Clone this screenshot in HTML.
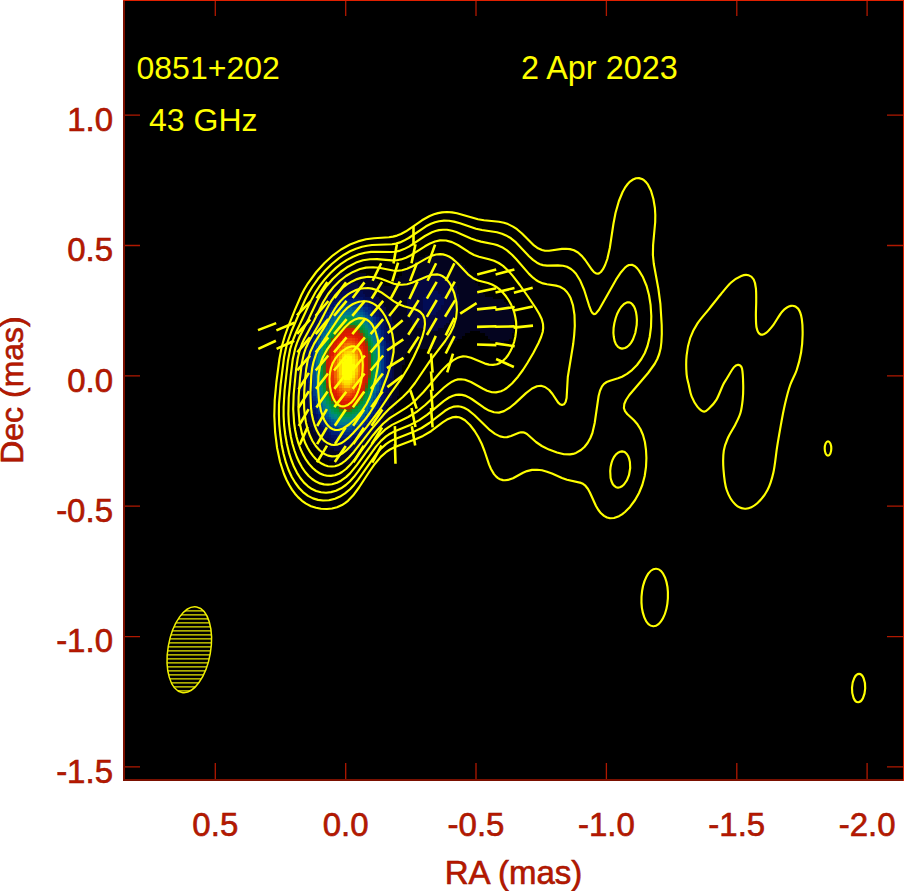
<!DOCTYPE html>
<html><head><meta charset="utf-8"><title>0851+202 43 GHz</title>
<style>html,body{margin:0;padding:0;background:#fff;width:904px;height:891px;overflow:hidden}svg{display:block}</style>
</head><body>
<svg width="904" height="891" viewBox="0 0 904 891">
<defs><clipPath id="plotclip"><rect x="125" y="1" width="778" height="778"/></clipPath></defs>
<rect x="123" y="0" width="781" height="781" fill="#000"/>
<g clip-path="url(#plotclip)">
<g shape-rendering="crispEdges"><path fill="#04041f" d="M425.1 254.7h21.2v2.9h-21.2zM419.9 257.4h34.2v2.9h-34.2zM414.7 260.0h42.0v2.9h-42.0zM412.1 262.6h49.8v2.9h-49.8zM406.8 265.2h57.7v2.9h-57.7zM404.2 267.8h62.9v2.9h-62.9zM349.5 270.4h8.1v2.9h-8.1zM401.6 270.4h68.1v2.9h-68.1zM339.1 273.0h26.4v2.9h-26.4zM401.6 273.0h26.4v2.9h-26.4zM440.7 273.0h29.0v2.9h-29.0zM333.9 275.6h36.8v2.9h-36.8zM399.0 275.6h23.8v2.9h-23.8zM446.0 275.6h26.4v2.9h-26.4zM331.2 278.2h44.6v2.9h-44.6zM396.4 278.2h23.8v2.9h-23.8zM448.6 278.2h26.4v2.9h-26.4zM326.0 280.8h52.4v2.9h-52.4zM393.8 280.8h23.8v2.9h-23.8zM451.2 280.8h23.8v2.9h-23.8zM323.4 283.4h21.2v2.9h-21.2zM357.3 283.4h26.4v2.9h-26.4zM391.2 283.4h23.8v2.9h-23.8zM453.8 283.4h23.8v2.9h-23.8zM320.8 286.0h18.5v2.9h-18.5zM365.1 286.0h47.2v2.9h-47.2zM456.4 286.0h23.8v2.9h-23.8zM318.2 288.6h15.9v2.9h-15.9zM370.4 288.6h39.4v2.9h-39.4zM456.4 288.6h23.8v2.9h-23.8zM318.2 291.2h13.3v2.9h-13.3zM373.0 291.2h36.8v2.9h-36.8zM456.4 291.2h26.4v2.9h-26.4zM315.6 293.9h13.3v2.9h-13.3zM375.6 293.9h34.2v2.9h-34.2zM459.0 293.9h26.4v2.9h-26.4zM313.0 296.5h13.3v2.9h-13.3zM378.2 296.5h29.0v2.9h-29.0zM459.0 296.5h34.2v2.9h-34.2zM313.0 299.1h10.7v2.9h-10.7zM380.8 299.1h26.4v2.9h-26.4zM459.0 299.1h44.6v2.9h-44.6zM310.4 301.7h10.7v2.9h-10.7zM380.8 301.7h26.4v2.9h-26.4zM459.0 301.7h47.2v2.9h-47.2zM310.4 304.3h8.1v2.9h-8.1zM383.4 304.3h23.8v2.9h-23.8zM456.4 304.3h52.4v2.9h-52.4zM307.8 306.9h10.7v2.9h-10.7zM386.0 306.9h21.2v2.9h-21.2zM456.4 306.9h55.0v2.9h-55.0zM307.8 309.5h8.1v2.9h-8.1zM386.0 309.5h21.2v2.9h-21.2zM456.4 309.5h55.0v2.9h-55.0zM305.2 312.1h10.7v2.9h-10.7zM388.6 312.1h18.5v2.9h-18.5zM453.8 312.1h60.3v2.9h-60.3zM305.2 314.7h8.1v2.9h-8.1zM391.2 314.7h15.9v2.9h-15.9zM453.8 314.7h60.3v2.9h-60.3zM302.6 317.3h10.7v2.9h-10.7zM391.2 317.3h18.5v2.9h-18.5zM451.2 317.3h62.9v2.9h-62.9zM302.6 319.9h8.1v2.9h-8.1zM391.2 319.9h21.2v2.9h-21.2zM448.6 319.9h65.5v2.9h-65.5zM302.6 322.5h8.1v2.9h-8.1zM393.8 322.5h18.5v2.9h-18.5zM446.0 322.5h68.1v2.9h-68.1zM300.0 325.1h8.1v2.9h-8.1zM393.8 325.1h23.8v2.9h-23.8zM443.3 325.1h70.7v2.9h-70.7zM300.0 327.7h8.1v2.9h-8.1zM393.8 327.7h29.0v2.9h-29.0zM438.1 327.7h75.9v2.9h-75.9zM300.0 330.4h8.1v2.9h-8.1zM393.8 330.4h75.9v2.9h-75.9zM479.8 330.4h34.2v2.9h-34.2zM297.4 333.0h8.1v2.9h-8.1zM393.8 333.0h70.7v2.9h-70.7zM485.1 333.0h26.4v2.9h-26.4zM297.4 335.6h8.1v2.9h-8.1zM393.8 335.6h68.1v2.9h-68.1zM487.7 335.6h23.8v2.9h-23.8zM297.4 338.2h8.1v2.9h-8.1zM393.8 338.2h62.9v2.9h-62.9zM490.3 338.2h18.5v2.9h-18.5zM297.4 340.8h8.1v2.9h-8.1zM393.8 340.8h60.3v2.9h-60.3zM495.5 340.8h8.1v2.9h-8.1zM297.4 343.4h5.5v2.9h-5.5zM393.8 343.4h55.0v2.9h-55.0zM294.7 346.0h8.1v2.9h-8.1zM393.8 346.0h47.2v2.9h-47.2zM294.7 348.6h8.1v2.9h-8.1zM393.8 348.6h13.3v2.9h-13.3zM294.7 351.2h8.1v2.9h-8.1zM393.8 351.2h13.3v2.9h-13.3zM294.7 353.8h8.1v2.9h-8.1zM393.8 353.8h10.7v2.9h-10.7zM294.7 356.4h8.1v2.9h-8.1zM393.8 356.4h10.7v2.9h-10.7zM294.7 359.0h5.5v2.9h-5.5zM393.8 359.0h10.7v2.9h-10.7zM294.7 361.6h5.5v2.9h-5.5zM393.8 361.6h10.7v2.9h-10.7zM294.7 364.2h5.5v2.9h-5.5zM393.8 364.2h8.1v2.9h-8.1zM292.1 366.8h8.1v2.9h-8.1zM393.8 366.8h8.1v2.9h-8.1zM292.1 369.5h8.1v2.9h-8.1zM393.8 369.5h8.1v2.9h-8.1zM292.1 372.1h8.1v2.9h-8.1zM393.8 372.1h8.1v2.9h-8.1zM292.1 374.7h8.1v2.9h-8.1zM393.8 374.7h8.1v2.9h-8.1zM292.1 377.3h8.1v2.9h-8.1zM393.8 377.3h8.1v2.9h-8.1zM292.1 379.9h8.1v2.9h-8.1zM393.8 379.9h8.1v2.9h-8.1zM294.7 382.5h5.5v2.9h-5.5zM393.8 382.5h5.5v2.9h-5.5zM294.7 385.1h5.5v2.9h-5.5zM391.2 385.1h8.1v2.9h-8.1zM294.7 387.7h5.5v2.9h-5.5zM391.2 387.7h8.1v2.9h-8.1zM294.7 390.3h8.1v2.9h-8.1zM391.2 390.3h8.1v2.9h-8.1zM294.7 392.9h8.1v2.9h-8.1zM391.2 392.9h8.1v2.9h-8.1zM294.7 395.5h8.1v2.9h-8.1zM391.2 395.5h5.5v2.9h-5.5zM294.7 398.1h8.1v2.9h-8.1zM388.6 398.1h8.1v2.9h-8.1zM294.7 400.7h8.1v2.9h-8.1zM388.6 400.7h8.1v2.9h-8.1zM294.7 403.3h8.1v2.9h-8.1zM388.6 403.3h8.1v2.9h-8.1zM297.4 406.0h8.1v2.9h-8.1zM386.0 406.0h8.1v2.9h-8.1zM297.4 408.6h8.1v2.9h-8.1zM386.0 408.6h8.1v2.9h-8.1zM297.4 411.2h8.1v2.9h-8.1zM386.0 411.2h8.1v2.9h-8.1zM297.4 413.8h10.7v2.9h-10.7zM383.4 413.8h8.1v2.9h-8.1zM300.0 416.4h8.1v2.9h-8.1zM383.4 416.4h8.1v2.9h-8.1zM300.0 419.0h8.1v2.9h-8.1zM380.8 419.0h10.7v2.9h-10.7zM300.0 421.6h10.7v2.9h-10.7zM380.8 421.6h8.1v2.9h-8.1zM302.6 424.2h8.1v2.9h-8.1zM378.2 424.2h10.7v2.9h-10.7zM302.6 426.8h10.7v2.9h-10.7zM375.6 426.8h10.7v2.9h-10.7zM305.2 429.4h8.1v2.9h-8.1zM375.6 429.4h10.7v2.9h-10.7zM305.2 432.0h10.7v2.9h-10.7zM373.0 432.0h10.7v2.9h-10.7zM305.2 434.6h13.3v2.9h-13.3zM370.4 434.6h10.7v2.9h-10.7zM307.8 437.2h13.3v2.9h-13.3zM367.7 437.2h13.3v2.9h-13.3zM310.4 439.8h10.7v2.9h-10.7zM365.1 439.8h13.3v2.9h-13.3zM310.4 442.5h15.9v2.9h-15.9zM362.5 442.5h13.3v2.9h-13.3zM313.0 445.1h15.9v2.9h-15.9zM359.9 445.1h15.9v2.9h-15.9zM315.6 447.7h18.5v2.9h-18.5zM354.7 447.7h18.5v2.9h-18.5zM318.2 450.3h52.4v2.9h-52.4zM320.8 452.9h44.6v2.9h-44.6zM323.4 455.5h39.4v2.9h-39.4zM328.6 458.1h31.6v2.9h-31.6zM333.9 460.7h18.5v2.9h-18.5z"/><path fill="#050741" d="M427.7 273.0h13.3v2.9h-13.3zM422.5 275.6h23.8v2.9h-23.8zM419.9 278.2h29.0v2.9h-29.0zM417.3 280.8h34.2v2.9h-34.2zM344.3 283.4h13.3v2.9h-13.3zM414.7 283.4h39.4v2.9h-39.4zM339.1 286.0h26.4v2.9h-26.4zM412.1 286.0h44.6v2.9h-44.6zM333.9 288.6h36.8v2.9h-36.8zM409.5 288.6h47.2v2.9h-47.2zM331.2 291.2h10.7v2.9h-10.7zM362.5 291.2h10.7v2.9h-10.7zM409.5 291.2h18.5v2.9h-18.5zM438.1 291.2h18.5v2.9h-18.5zM328.6 293.9h8.1v2.9h-8.1zM365.1 293.9h10.7v2.9h-10.7zM409.5 293.9h15.9v2.9h-15.9zM440.7 293.9h18.5v2.9h-18.5zM326.0 296.5h8.1v2.9h-8.1zM370.4 296.5h8.1v2.9h-8.1zM406.8 296.5h15.9v2.9h-15.9zM443.3 296.5h15.9v2.9h-15.9zM323.4 299.1h5.5v2.9h-5.5zM373.0 299.1h8.1v2.9h-8.1zM406.8 299.1h15.9v2.9h-15.9zM443.3 299.1h15.9v2.9h-15.9zM320.8 301.7h5.5v2.9h-5.5zM375.6 301.7h5.5v2.9h-5.5zM406.8 301.7h15.9v2.9h-15.9zM443.3 301.7h15.9v2.9h-15.9zM318.2 304.3h8.1v2.9h-8.1zM375.6 304.3h8.1v2.9h-8.1zM406.8 304.3h15.9v2.9h-15.9zM440.7 304.3h15.9v2.9h-15.9zM318.2 306.9h5.5v2.9h-5.5zM378.2 306.9h8.1v2.9h-8.1zM406.8 306.9h15.9v2.9h-15.9zM440.7 306.9h15.9v2.9h-15.9zM315.6 309.5h5.5v2.9h-5.5zM380.8 309.5h5.5v2.9h-5.5zM406.8 309.5h18.5v2.9h-18.5zM438.1 309.5h18.5v2.9h-18.5zM315.6 312.1h2.9v2.9h-2.9zM380.8 312.1h8.1v2.9h-8.1zM406.8 312.1h21.2v2.9h-21.2zM435.5 312.1h18.5v2.9h-18.5zM313.0 314.7h5.5v2.9h-5.5zM383.4 314.7h8.1v2.9h-8.1zM406.8 314.7h47.2v2.9h-47.2zM313.0 317.3h2.9v2.9h-2.9zM383.4 317.3h8.1v2.9h-8.1zM409.5 317.3h42.0v2.9h-42.0zM310.4 319.9h5.5v2.9h-5.5zM386.0 319.9h5.5v2.9h-5.5zM412.1 319.9h36.8v2.9h-36.8zM310.4 322.5h2.9v2.9h-2.9zM386.0 322.5h8.1v2.9h-8.1zM412.1 322.5h34.2v2.9h-34.2zM307.8 325.1h5.5v2.9h-5.5zM386.0 325.1h8.1v2.9h-8.1zM417.3 325.1h26.4v2.9h-26.4zM307.8 327.7h5.5v2.9h-5.5zM388.6 327.7h5.5v2.9h-5.5zM422.5 327.7h15.9v2.9h-15.9zM307.8 330.4h2.9v2.9h-2.9zM388.6 330.4h5.5v2.9h-5.5zM305.2 333.0h5.5v2.9h-5.5zM388.6 333.0h5.5v2.9h-5.5zM305.2 335.6h5.5v2.9h-5.5zM388.6 335.6h5.5v2.9h-5.5zM305.2 338.2h2.9v2.9h-2.9zM388.6 338.2h5.5v2.9h-5.5zM305.2 340.8h2.9v2.9h-2.9zM391.2 340.8h2.9v2.9h-2.9zM302.6 343.4h5.5v2.9h-5.5zM391.2 343.4h2.9v2.9h-2.9zM302.6 346.0h5.5v2.9h-5.5zM391.2 346.0h2.9v2.9h-2.9zM302.6 348.6h2.9v2.9h-2.9zM391.2 348.6h2.9v2.9h-2.9zM302.6 351.2h2.9v2.9h-2.9zM391.2 351.2h2.9v2.9h-2.9zM302.6 353.8h2.9v2.9h-2.9zM391.2 353.8h2.9v2.9h-2.9zM302.6 356.4h2.9v2.9h-2.9zM391.2 356.4h2.9v2.9h-2.9zM300.0 359.0h5.5v2.9h-5.5zM391.2 359.0h2.9v2.9h-2.9zM300.0 361.6h5.5v2.9h-5.5zM391.2 361.6h2.9v2.9h-2.9zM300.0 364.2h5.5v2.9h-5.5zM391.2 364.2h2.9v2.9h-2.9zM300.0 366.8h5.5v2.9h-5.5zM391.2 366.8h2.9v2.9h-2.9zM300.0 369.5h5.5v2.9h-5.5zM391.2 369.5h2.9v2.9h-2.9zM300.0 372.1h5.5v2.9h-5.5zM391.2 372.1h2.9v2.9h-2.9zM300.0 374.7h5.5v2.9h-5.5zM391.2 374.7h2.9v2.9h-2.9zM300.0 377.3h5.5v2.9h-5.5zM388.6 377.3h5.5v2.9h-5.5zM300.0 379.9h5.5v2.9h-5.5zM388.6 379.9h5.5v2.9h-5.5zM300.0 382.5h5.5v2.9h-5.5zM388.6 382.5h5.5v2.9h-5.5zM300.0 385.1h5.5v2.9h-5.5zM388.6 385.1h2.9v2.9h-2.9zM300.0 387.7h5.5v2.9h-5.5zM388.6 387.7h2.9v2.9h-2.9zM302.6 390.3h2.9v2.9h-2.9zM388.6 390.3h2.9v2.9h-2.9zM302.6 392.9h2.9v2.9h-2.9zM386.0 392.9h5.5v2.9h-5.5zM302.6 395.5h2.9v2.9h-2.9zM386.0 395.5h5.5v2.9h-5.5zM302.6 398.1h5.5v2.9h-5.5zM386.0 398.1h2.9v2.9h-2.9zM302.6 400.7h5.5v2.9h-5.5zM383.4 400.7h5.5v2.9h-5.5zM302.6 403.3h5.5v2.9h-5.5zM383.4 403.3h5.5v2.9h-5.5zM305.2 406.0h2.9v2.9h-2.9zM383.4 406.0h2.9v2.9h-2.9zM305.2 408.6h5.5v2.9h-5.5zM380.8 408.6h5.5v2.9h-5.5zM305.2 411.2h5.5v2.9h-5.5zM380.8 411.2h5.5v2.9h-5.5zM307.8 413.8h2.9v2.9h-2.9zM378.2 413.8h5.5v2.9h-5.5zM307.8 416.4h5.5v2.9h-5.5zM378.2 416.4h5.5v2.9h-5.5zM307.8 419.0h5.5v2.9h-5.5zM375.6 419.0h5.5v2.9h-5.5zM310.4 421.6h5.5v2.9h-5.5zM375.6 421.6h5.5v2.9h-5.5zM310.4 424.2h5.5v2.9h-5.5zM373.0 424.2h5.5v2.9h-5.5zM313.0 426.8h5.5v2.9h-5.5zM370.4 426.8h5.5v2.9h-5.5zM313.0 429.4h8.1v2.9h-8.1zM370.4 429.4h5.5v2.9h-5.5zM315.6 432.0h5.5v2.9h-5.5zM367.7 432.0h5.5v2.9h-5.5zM318.2 434.6h5.5v2.9h-5.5zM365.1 434.6h5.5v2.9h-5.5zM320.8 437.2h8.1v2.9h-8.1zM359.9 437.2h8.1v2.9h-8.1zM320.8 439.8h10.7v2.9h-10.7zM357.3 439.8h8.1v2.9h-8.1zM326.0 442.5h10.7v2.9h-10.7zM352.1 442.5h10.7v2.9h-10.7zM328.6 445.1h31.6v2.9h-31.6zM333.9 447.7h21.2v2.9h-21.2z"/><path fill="#020c55" d="M341.7 291.2h21.2v2.9h-21.2zM427.7 291.2h10.7v2.9h-10.7zM336.5 293.9h10.7v2.9h-10.7zM354.7 293.9h10.7v2.9h-10.7zM425.1 293.9h15.9v2.9h-15.9zM333.9 296.5h5.5v2.9h-5.5zM362.5 296.5h8.1v2.9h-8.1zM422.5 296.5h21.2v2.9h-21.2zM328.6 299.1h8.1v2.9h-8.1zM365.1 299.1h8.1v2.9h-8.1zM422.5 299.1h21.2v2.9h-21.2zM326.0 301.7h5.5v2.9h-5.5zM370.4 301.7h5.5v2.9h-5.5zM422.5 301.7h21.2v2.9h-21.2zM326.0 304.3h2.9v2.9h-2.9zM373.0 304.3h2.9v2.9h-2.9zM422.5 304.3h18.5v2.9h-18.5zM323.4 306.9h2.9v2.9h-2.9zM373.0 306.9h5.5v2.9h-5.5zM422.5 306.9h18.5v2.9h-18.5zM320.8 309.5h5.5v2.9h-5.5zM375.6 309.5h5.5v2.9h-5.5zM425.1 309.5h13.3v2.9h-13.3zM318.2 312.1h5.5v2.9h-5.5zM378.2 312.1h2.9v2.9h-2.9zM427.7 312.1h8.1v2.9h-8.1zM318.2 314.7h2.9v2.9h-2.9zM378.2 314.7h5.5v2.9h-5.5zM315.6 317.3h5.5v2.9h-5.5zM380.8 317.3h2.9v2.9h-2.9zM315.6 319.9h2.9v2.9h-2.9zM380.8 319.9h5.5v2.9h-5.5zM313.0 322.5h5.5v2.9h-5.5zM383.4 322.5h2.9v2.9h-2.9zM313.0 325.1h2.9v2.9h-2.9zM383.4 325.1h2.9v2.9h-2.9zM313.0 327.7h2.9v2.9h-2.9zM383.4 327.7h5.5v2.9h-5.5zM310.4 330.4h2.9v2.9h-2.9zM386.0 330.4h2.9v2.9h-2.9zM310.4 333.0h2.9v2.9h-2.9zM386.0 333.0h2.9v2.9h-2.9zM310.4 335.6h2.9v2.9h-2.9zM386.0 335.6h2.9v2.9h-2.9zM307.8 338.2h2.9v2.9h-2.9zM386.0 338.2h2.9v2.9h-2.9zM307.8 340.8h2.9v2.9h-2.9zM386.0 340.8h5.5v2.9h-5.5zM307.8 343.4h2.9v2.9h-2.9zM388.6 343.4h2.9v2.9h-2.9zM307.8 346.0h2.9v2.9h-2.9zM388.6 346.0h2.9v2.9h-2.9zM305.2 348.6h2.9v2.9h-2.9zM388.6 348.6h2.9v2.9h-2.9zM305.2 351.2h2.9v2.9h-2.9zM388.6 351.2h2.9v2.9h-2.9zM305.2 353.8h2.9v2.9h-2.9zM388.6 353.8h2.9v2.9h-2.9zM305.2 356.4h2.9v2.9h-2.9zM388.6 356.4h2.9v2.9h-2.9zM305.2 359.0h2.9v2.9h-2.9zM388.6 359.0h2.9v2.9h-2.9zM305.2 361.6h2.9v2.9h-2.9zM388.6 361.6h2.9v2.9h-2.9zM305.2 364.2h2.9v2.9h-2.9zM388.6 364.2h2.9v2.9h-2.9zM305.2 366.8h2.9v2.9h-2.9zM388.6 366.8h2.9v2.9h-2.9zM305.2 369.5h2.9v2.9h-2.9zM388.6 369.5h2.9v2.9h-2.9zM305.2 372.1h2.9v2.9h-2.9zM388.6 372.1h2.9v2.9h-2.9zM305.2 374.7h2.9v2.9h-2.9zM388.6 374.7h2.9v2.9h-2.9zM305.2 377.3h2.9v2.9h-2.9zM386.0 377.3h2.9v2.9h-2.9zM305.2 379.9h2.9v2.9h-2.9zM386.0 379.9h2.9v2.9h-2.9zM305.2 382.5h2.9v2.9h-2.9zM386.0 382.5h2.9v2.9h-2.9zM305.2 385.1h2.9v2.9h-2.9zM386.0 385.1h2.9v2.9h-2.9zM305.2 387.7h2.9v2.9h-2.9zM386.0 387.7h2.9v2.9h-2.9zM305.2 390.3h2.9v2.9h-2.9zM386.0 390.3h2.9v2.9h-2.9zM305.2 392.9h2.9v2.9h-2.9zM383.4 392.9h2.9v2.9h-2.9zM305.2 395.5h2.9v2.9h-2.9zM383.4 395.5h2.9v2.9h-2.9zM307.8 398.1h2.9v2.9h-2.9zM383.4 398.1h2.9v2.9h-2.9zM307.8 400.7h2.9v2.9h-2.9zM380.8 400.7h2.9v2.9h-2.9zM307.8 403.3h2.9v2.9h-2.9zM380.8 403.3h2.9v2.9h-2.9zM307.8 406.0h2.9v2.9h-2.9zM380.8 406.0h2.9v2.9h-2.9zM310.4 408.6h2.9v2.9h-2.9zM378.2 408.6h2.9v2.9h-2.9zM310.4 411.2h2.9v2.9h-2.9zM378.2 411.2h2.9v2.9h-2.9zM310.4 413.8h5.5v2.9h-5.5zM375.6 413.8h2.9v2.9h-2.9zM313.0 416.4h2.9v2.9h-2.9zM375.6 416.4h2.9v2.9h-2.9zM313.0 419.0h5.5v2.9h-5.5zM373.0 419.0h2.9v2.9h-2.9zM315.6 421.6h2.9v2.9h-2.9zM370.4 421.6h5.5v2.9h-5.5zM315.6 424.2h5.5v2.9h-5.5zM367.7 424.2h5.5v2.9h-5.5zM318.2 426.8h5.5v2.9h-5.5zM367.7 426.8h2.9v2.9h-2.9zM320.8 429.4h2.9v2.9h-2.9zM365.1 429.4h5.5v2.9h-5.5zM320.8 432.0h8.1v2.9h-8.1zM362.5 432.0h5.5v2.9h-5.5zM323.4 434.6h8.1v2.9h-8.1zM357.3 434.6h8.1v2.9h-8.1zM328.6 437.2h5.5v2.9h-5.5zM352.1 437.2h8.1v2.9h-8.1zM331.2 439.8h26.4v2.9h-26.4zM336.5 442.5h15.9v2.9h-15.9z"/><path fill="#001166" d="M346.9 293.9h8.1v2.9h-8.1zM339.1 296.5h23.8v2.9h-23.8zM336.5 299.1h5.5v2.9h-5.5zM359.9 299.1h5.5v2.9h-5.5zM331.2 301.7h5.5v2.9h-5.5zM365.1 301.7h5.5v2.9h-5.5zM328.6 304.3h5.5v2.9h-5.5zM367.7 304.3h5.5v2.9h-5.5zM326.0 306.9h5.5v2.9h-5.5zM370.4 306.9h2.9v2.9h-2.9zM326.0 309.5h2.9v2.9h-2.9zM373.0 309.5h2.9v2.9h-2.9zM323.4 312.1h2.9v2.9h-2.9zM373.0 312.1h5.5v2.9h-5.5zM320.8 314.7h2.9v2.9h-2.9zM375.6 314.7h2.9v2.9h-2.9zM320.8 317.3h2.9v2.9h-2.9zM378.2 317.3h2.9v2.9h-2.9zM318.2 319.9h2.9v2.9h-2.9zM378.2 319.9h2.9v2.9h-2.9zM318.2 322.5h2.9v2.9h-2.9zM380.8 322.5h2.9v2.9h-2.9zM315.6 325.1h2.9v2.9h-2.9zM380.8 325.1h2.9v2.9h-2.9zM315.6 327.7h2.9v2.9h-2.9zM380.8 327.7h2.9v2.9h-2.9zM313.0 330.4h2.9v2.9h-2.9zM383.4 330.4h2.9v2.9h-2.9zM313.0 333.0h2.9v2.9h-2.9zM383.4 333.0h2.9v2.9h-2.9zM313.0 335.6h2.9v2.9h-2.9zM383.4 335.6h2.9v2.9h-2.9zM310.4 338.2h2.9v2.9h-2.9zM383.4 338.2h2.9v2.9h-2.9zM310.4 340.8h2.9v2.9h-2.9zM310.4 343.4h2.9v2.9h-2.9zM386.0 343.4h2.9v2.9h-2.9zM386.0 346.0h2.9v2.9h-2.9zM307.8 348.6h2.9v2.9h-2.9zM386.0 348.6h2.9v2.9h-2.9zM307.8 351.2h2.9v2.9h-2.9zM386.0 351.2h2.9v2.9h-2.9zM307.8 353.8h2.9v2.9h-2.9zM386.0 353.8h2.9v2.9h-2.9zM307.8 356.4h2.9v2.9h-2.9zM386.0 356.4h2.9v2.9h-2.9zM307.8 359.0h2.9v2.9h-2.9zM386.0 359.0h2.9v2.9h-2.9zM307.8 361.6h2.9v2.9h-2.9zM386.0 361.6h2.9v2.9h-2.9zM386.0 364.2h2.9v2.9h-2.9zM386.0 366.8h2.9v2.9h-2.9zM386.0 369.5h2.9v2.9h-2.9zM386.0 372.1h2.9v2.9h-2.9zM386.0 374.7h2.9v2.9h-2.9zM307.8 382.5h2.9v2.9h-2.9zM383.4 382.5h2.9v2.9h-2.9zM307.8 385.1h2.9v2.9h-2.9zM383.4 385.1h2.9v2.9h-2.9zM307.8 387.7h2.9v2.9h-2.9zM383.4 387.7h2.9v2.9h-2.9zM307.8 390.3h2.9v2.9h-2.9zM383.4 390.3h2.9v2.9h-2.9zM307.8 392.9h2.9v2.9h-2.9zM380.8 392.9h2.9v2.9h-2.9zM307.8 395.5h2.9v2.9h-2.9zM380.8 395.5h2.9v2.9h-2.9zM310.4 398.1h2.9v2.9h-2.9zM380.8 398.1h2.9v2.9h-2.9zM310.4 400.7h2.9v2.9h-2.9zM378.2 400.7h2.9v2.9h-2.9zM310.4 403.3h2.9v2.9h-2.9zM378.2 403.3h2.9v2.9h-2.9zM310.4 406.0h2.9v2.9h-2.9zM378.2 406.0h2.9v2.9h-2.9zM313.0 408.6h2.9v2.9h-2.9zM375.6 408.6h2.9v2.9h-2.9zM313.0 411.2h2.9v2.9h-2.9zM375.6 411.2h2.9v2.9h-2.9zM315.6 413.8h2.9v2.9h-2.9zM373.0 413.8h2.9v2.9h-2.9zM315.6 416.4h2.9v2.9h-2.9zM370.4 416.4h5.5v2.9h-5.5zM318.2 419.0h2.9v2.9h-2.9zM370.4 419.0h2.9v2.9h-2.9zM318.2 421.6h2.9v2.9h-2.9zM367.7 421.6h2.9v2.9h-2.9zM320.8 424.2h2.9v2.9h-2.9zM365.1 424.2h2.9v2.9h-2.9zM323.4 426.8h2.9v2.9h-2.9zM362.5 426.8h5.5v2.9h-5.5zM323.4 429.4h5.5v2.9h-5.5zM359.9 429.4h5.5v2.9h-5.5zM328.6 432.0h2.9v2.9h-2.9zM357.3 432.0h5.5v2.9h-5.5zM331.2 434.6h5.5v2.9h-5.5zM352.1 434.6h5.5v2.9h-5.5zM333.9 437.2h18.5v2.9h-18.5z"/><path fill="#001e76" d="M341.7 299.1h18.5v2.9h-18.5zM336.5 301.7h5.5v2.9h-5.5zM359.9 301.7h5.5v2.9h-5.5zM333.9 304.3h5.5v2.9h-5.5zM362.5 304.3h5.5v2.9h-5.5zM331.2 306.9h2.9v2.9h-2.9zM367.7 306.9h2.9v2.9h-2.9zM328.6 309.5h2.9v2.9h-2.9zM370.4 309.5h2.9v2.9h-2.9zM326.0 312.1h2.9v2.9h-2.9zM370.4 312.1h2.9v2.9h-2.9zM323.4 314.7h2.9v2.9h-2.9zM373.0 314.7h2.9v2.9h-2.9zM323.4 317.3h2.9v2.9h-2.9zM375.6 317.3h2.9v2.9h-2.9zM320.8 319.9h2.9v2.9h-2.9zM375.6 319.9h2.9v2.9h-2.9zM378.2 322.5h2.9v2.9h-2.9zM318.2 325.1h2.9v2.9h-2.9zM378.2 325.1h2.9v2.9h-2.9zM378.2 327.7h2.9v2.9h-2.9zM315.6 330.4h2.9v2.9h-2.9zM380.8 330.4h2.9v2.9h-2.9zM315.6 333.0h2.9v2.9h-2.9zM380.8 333.0h2.9v2.9h-2.9zM380.8 335.6h2.9v2.9h-2.9zM313.0 338.2h2.9v2.9h-2.9zM313.0 340.8h2.9v2.9h-2.9zM383.4 340.8h2.9v2.9h-2.9zM383.4 343.4h2.9v2.9h-2.9zM310.4 346.0h2.9v2.9h-2.9zM383.4 346.0h2.9v2.9h-2.9zM310.4 348.6h2.9v2.9h-2.9zM383.4 348.6h2.9v2.9h-2.9zM310.4 351.2h2.9v2.9h-2.9zM383.4 351.2h2.9v2.9h-2.9zM310.4 353.8h2.9v2.9h-2.9zM383.4 353.8h2.9v2.9h-2.9zM383.4 356.4h2.9v2.9h-2.9zM383.4 359.0h2.9v2.9h-2.9zM383.4 361.6h2.9v2.9h-2.9zM307.8 364.2h2.9v2.9h-2.9zM383.4 364.2h2.9v2.9h-2.9zM307.8 366.8h2.9v2.9h-2.9zM383.4 366.8h2.9v2.9h-2.9zM307.8 369.5h2.9v2.9h-2.9zM383.4 369.5h2.9v2.9h-2.9zM307.8 372.1h2.9v2.9h-2.9zM383.4 372.1h2.9v2.9h-2.9zM307.8 374.7h2.9v2.9h-2.9zM383.4 374.7h2.9v2.9h-2.9zM307.8 377.3h2.9v2.9h-2.9zM383.4 377.3h2.9v2.9h-2.9zM307.8 379.9h2.9v2.9h-2.9zM383.4 379.9h2.9v2.9h-2.9zM380.8 385.1h2.9v2.9h-2.9zM380.8 387.7h2.9v2.9h-2.9zM310.4 390.3h2.9v2.9h-2.9zM380.8 390.3h2.9v2.9h-2.9zM310.4 392.9h2.9v2.9h-2.9zM310.4 395.5h2.9v2.9h-2.9zM378.2 395.5h2.9v2.9h-2.9zM378.2 398.1h2.9v2.9h-2.9zM313.0 400.7h2.9v2.9h-2.9zM313.0 403.3h2.9v2.9h-2.9zM375.6 403.3h2.9v2.9h-2.9zM313.0 406.0h2.9v2.9h-2.9zM375.6 406.0h2.9v2.9h-2.9zM315.6 408.6h2.9v2.9h-2.9zM373.0 408.6h2.9v2.9h-2.9zM315.6 411.2h2.9v2.9h-2.9zM373.0 411.2h2.9v2.9h-2.9zM318.2 413.8h2.9v2.9h-2.9zM370.4 413.8h2.9v2.9h-2.9zM318.2 416.4h2.9v2.9h-2.9zM367.7 416.4h2.9v2.9h-2.9zM320.8 419.0h2.9v2.9h-2.9zM367.7 419.0h2.9v2.9h-2.9zM320.8 421.6h5.5v2.9h-5.5zM365.1 421.6h2.9v2.9h-2.9zM323.4 424.2h2.9v2.9h-2.9zM362.5 424.2h2.9v2.9h-2.9zM326.0 426.8h5.5v2.9h-5.5zM359.9 426.8h2.9v2.9h-2.9zM328.6 429.4h5.5v2.9h-5.5zM354.7 429.4h5.5v2.9h-5.5zM331.2 432.0h8.1v2.9h-8.1zM349.5 432.0h8.1v2.9h-8.1zM336.5 434.6h15.9v2.9h-15.9z"/><path fill="#002c84" d="M341.7 301.7h18.5v2.9h-18.5zM339.1 304.3h2.9v2.9h-2.9zM359.9 304.3h2.9v2.9h-2.9zM333.9 306.9h5.5v2.9h-5.5zM362.5 306.9h5.5v2.9h-5.5zM331.2 309.5h2.9v2.9h-2.9zM365.1 309.5h5.5v2.9h-5.5zM328.6 312.1h2.9v2.9h-2.9zM367.7 312.1h2.9v2.9h-2.9zM326.0 314.7h2.9v2.9h-2.9zM370.4 314.7h2.9v2.9h-2.9zM326.0 317.3h2.9v2.9h-2.9zM373.0 317.3h2.9v2.9h-2.9zM323.4 319.9h2.9v2.9h-2.9zM373.0 319.9h2.9v2.9h-2.9zM320.8 322.5h2.9v2.9h-2.9zM375.6 322.5h2.9v2.9h-2.9zM320.8 325.1h2.9v2.9h-2.9zM375.6 325.1h2.9v2.9h-2.9zM318.2 327.7h2.9v2.9h-2.9zM318.2 330.4h2.9v2.9h-2.9zM378.2 330.4h2.9v2.9h-2.9zM378.2 333.0h2.9v2.9h-2.9zM315.6 335.6h2.9v2.9h-2.9zM315.6 338.2h2.9v2.9h-2.9zM380.8 338.2h2.9v2.9h-2.9zM380.8 340.8h2.9v2.9h-2.9zM313.0 343.4h2.9v2.9h-2.9zM380.8 343.4h2.9v2.9h-2.9zM313.0 346.0h2.9v2.9h-2.9zM313.0 348.6h2.9v2.9h-2.9zM310.4 356.4h2.9v2.9h-2.9zM310.4 359.0h2.9v2.9h-2.9zM310.4 361.6h2.9v2.9h-2.9zM310.4 364.2h2.9v2.9h-2.9zM310.4 366.8h2.9v2.9h-2.9zM310.4 369.5h2.9v2.9h-2.9zM310.4 372.1h2.9v2.9h-2.9zM310.4 374.7h2.9v2.9h-2.9zM310.4 377.3h2.9v2.9h-2.9zM380.8 377.3h2.9v2.9h-2.9zM310.4 379.9h2.9v2.9h-2.9zM380.8 379.9h2.9v2.9h-2.9zM310.4 382.5h2.9v2.9h-2.9zM380.8 382.5h2.9v2.9h-2.9zM310.4 385.1h2.9v2.9h-2.9zM310.4 387.7h2.9v2.9h-2.9zM378.2 390.3h2.9v2.9h-2.9zM378.2 392.9h2.9v2.9h-2.9zM313.0 395.5h2.9v2.9h-2.9zM313.0 398.1h2.9v2.9h-2.9zM375.6 398.1h2.9v2.9h-2.9zM375.6 400.7h2.9v2.9h-2.9zM315.6 403.3h2.9v2.9h-2.9zM315.6 406.0h2.9v2.9h-2.9zM373.0 406.0h2.9v2.9h-2.9zM370.4 408.6h2.9v2.9h-2.9zM318.2 411.2h2.9v2.9h-2.9zM370.4 411.2h2.9v2.9h-2.9zM367.7 413.8h2.9v2.9h-2.9zM320.8 416.4h2.9v2.9h-2.9zM323.4 419.0h2.9v2.9h-2.9zM365.1 419.0h2.9v2.9h-2.9zM326.0 421.6h2.9v2.9h-2.9zM362.5 421.6h2.9v2.9h-2.9zM326.0 424.2h5.5v2.9h-5.5zM359.9 424.2h2.9v2.9h-2.9zM331.2 426.8h2.9v2.9h-2.9zM354.7 426.8h5.5v2.9h-5.5zM333.9 429.4h5.5v2.9h-5.5zM349.5 429.4h5.5v2.9h-5.5zM339.1 432.0h10.7v2.9h-10.7z"/><path fill="#003d8a" d="M341.7 304.3h18.5v2.9h-18.5zM339.1 306.9h2.9v2.9h-2.9zM359.9 306.9h2.9v2.9h-2.9zM333.9 309.5h5.5v2.9h-5.5zM362.5 309.5h2.9v2.9h-2.9zM331.2 312.1h2.9v2.9h-2.9zM365.1 312.1h2.9v2.9h-2.9zM328.6 314.7h2.9v2.9h-2.9zM367.7 314.7h2.9v2.9h-2.9zM370.4 317.3h2.9v2.9h-2.9zM326.0 319.9h2.9v2.9h-2.9zM323.4 322.5h2.9v2.9h-2.9zM373.0 322.5h2.9v2.9h-2.9zM320.8 327.7h2.9v2.9h-2.9zM375.6 327.7h2.9v2.9h-2.9zM375.6 330.4h2.9v2.9h-2.9zM318.2 333.0h2.9v2.9h-2.9zM318.2 335.6h2.9v2.9h-2.9zM378.2 335.6h2.9v2.9h-2.9zM378.2 338.2h2.9v2.9h-2.9zM315.6 340.8h2.9v2.9h-2.9zM315.6 343.4h2.9v2.9h-2.9zM380.8 346.0h2.9v2.9h-2.9zM380.8 348.6h2.9v2.9h-2.9zM313.0 351.2h2.9v2.9h-2.9zM380.8 351.2h2.9v2.9h-2.9zM313.0 353.8h2.9v2.9h-2.9zM380.8 353.8h2.9v2.9h-2.9zM313.0 356.4h2.9v2.9h-2.9zM380.8 356.4h2.9v2.9h-2.9zM380.8 359.0h2.9v2.9h-2.9zM380.8 361.6h2.9v2.9h-2.9zM380.8 364.2h2.9v2.9h-2.9zM380.8 366.8h2.9v2.9h-2.9zM380.8 369.5h2.9v2.9h-2.9zM380.8 372.1h2.9v2.9h-2.9zM380.8 374.7h2.9v2.9h-2.9zM378.2 385.1h2.9v2.9h-2.9zM313.0 387.7h2.9v2.9h-2.9zM378.2 387.7h2.9v2.9h-2.9zM313.0 390.3h2.9v2.9h-2.9zM313.0 392.9h2.9v2.9h-2.9zM375.6 392.9h2.9v2.9h-2.9zM375.6 395.5h2.9v2.9h-2.9zM315.6 398.1h2.9v2.9h-2.9zM315.6 400.7h2.9v2.9h-2.9zM373.0 400.7h2.9v2.9h-2.9zM373.0 403.3h2.9v2.9h-2.9zM318.2 406.0h2.9v2.9h-2.9zM370.4 406.0h2.9v2.9h-2.9zM318.2 408.6h2.9v2.9h-2.9zM320.8 411.2h2.9v2.9h-2.9zM367.7 411.2h2.9v2.9h-2.9zM320.8 413.8h2.9v2.9h-2.9zM365.1 413.8h2.9v2.9h-2.9zM323.4 416.4h2.9v2.9h-2.9zM365.1 416.4h2.9v2.9h-2.9zM326.0 419.0h2.9v2.9h-2.9zM362.5 419.0h2.9v2.9h-2.9zM328.6 421.6h2.9v2.9h-2.9zM359.9 421.6h2.9v2.9h-2.9zM331.2 424.2h2.9v2.9h-2.9zM354.7 424.2h5.5v2.9h-5.5zM333.9 426.8h5.5v2.9h-5.5zM352.1 426.8h2.9v2.9h-2.9zM339.1 429.4h10.7v2.9h-10.7z"/><path fill="#004d90" d="M341.7 306.9h8.1v2.9h-8.1zM352.1 306.9h8.1v2.9h-8.1zM339.1 309.5h2.9v2.9h-2.9zM359.9 309.5h2.9v2.9h-2.9zM333.9 312.1h2.9v2.9h-2.9zM362.5 312.1h2.9v2.9h-2.9zM331.2 314.7h2.9v2.9h-2.9zM365.1 314.7h2.9v2.9h-2.9zM328.6 317.3h2.9v2.9h-2.9zM367.7 317.3h2.9v2.9h-2.9zM370.4 319.9h2.9v2.9h-2.9zM326.0 322.5h2.9v2.9h-2.9zM370.4 322.5h2.9v2.9h-2.9zM323.4 325.1h2.9v2.9h-2.9zM373.0 325.1h2.9v2.9h-2.9zM373.0 327.7h2.9v2.9h-2.9zM320.8 330.4h2.9v2.9h-2.9zM375.6 333.0h2.9v2.9h-2.9zM318.2 338.2h2.9v2.9h-2.9zM378.2 340.8h2.9v2.9h-2.9zM378.2 343.4h2.9v2.9h-2.9zM315.6 346.0h2.9v2.9h-2.9zM378.2 346.0h2.9v2.9h-2.9zM315.6 348.6h2.9v2.9h-2.9zM313.0 359.0h2.9v2.9h-2.9zM313.0 361.6h2.9v2.9h-2.9zM313.0 364.2h2.9v2.9h-2.9zM313.0 366.8h2.9v2.9h-2.9zM313.0 369.5h2.9v2.9h-2.9zM313.0 372.1h2.9v2.9h-2.9zM313.0 374.7h2.9v2.9h-2.9zM313.0 377.3h2.9v2.9h-2.9zM378.2 377.3h2.9v2.9h-2.9zM313.0 379.9h2.9v2.9h-2.9zM378.2 379.9h2.9v2.9h-2.9zM313.0 382.5h2.9v2.9h-2.9zM378.2 382.5h2.9v2.9h-2.9zM313.0 385.1h2.9v2.9h-2.9zM375.6 390.3h2.9v2.9h-2.9zM315.6 392.9h2.9v2.9h-2.9zM315.6 395.5h2.9v2.9h-2.9zM373.0 398.1h2.9v2.9h-2.9zM318.2 403.3h2.9v2.9h-2.9zM370.4 403.3h2.9v2.9h-2.9zM320.8 408.6h2.9v2.9h-2.9zM367.7 408.6h2.9v2.9h-2.9zM323.4 413.8h2.9v2.9h-2.9zM326.0 416.4h2.9v2.9h-2.9zM362.5 416.4h2.9v2.9h-2.9zM328.6 419.0h2.9v2.9h-2.9zM359.9 419.0h2.9v2.9h-2.9zM331.2 421.6h2.9v2.9h-2.9zM357.3 421.6h2.9v2.9h-2.9zM333.9 424.2h2.9v2.9h-2.9zM352.1 424.2h2.9v2.9h-2.9zM339.1 426.8h13.3v2.9h-13.3z"/><path fill="#005c93" d="M349.5 306.9h2.9v2.9h-2.9zM341.7 309.5h5.5v2.9h-5.5zM354.7 309.5h5.5v2.9h-5.5zM336.5 312.1h2.9v2.9h-2.9zM359.9 312.1h2.9v2.9h-2.9zM333.9 314.7h2.9v2.9h-2.9zM362.5 314.7h2.9v2.9h-2.9zM331.2 317.3h2.9v2.9h-2.9zM365.1 317.3h2.9v2.9h-2.9zM328.6 319.9h2.9v2.9h-2.9zM367.7 319.9h2.9v2.9h-2.9zM326.0 325.1h2.9v2.9h-2.9zM370.4 325.1h2.9v2.9h-2.9zM323.4 327.7h2.9v2.9h-2.9zM323.4 330.4h2.9v2.9h-2.9zM373.0 330.4h2.9v2.9h-2.9zM320.8 333.0h2.9v2.9h-2.9zM320.8 335.6h2.9v2.9h-2.9zM375.6 335.6h2.9v2.9h-2.9zM375.6 338.2h2.9v2.9h-2.9zM318.2 340.8h2.9v2.9h-2.9zM318.2 343.4h2.9v2.9h-2.9zM378.2 348.6h2.9v2.9h-2.9zM315.6 351.2h2.9v2.9h-2.9zM378.2 351.2h2.9v2.9h-2.9zM315.6 353.8h2.9v2.9h-2.9zM378.2 353.8h2.9v2.9h-2.9zM378.2 356.4h2.9v2.9h-2.9zM378.2 359.0h2.9v2.9h-2.9zM378.2 361.6h2.9v2.9h-2.9zM378.2 364.2h2.9v2.9h-2.9zM378.2 366.8h2.9v2.9h-2.9zM378.2 369.5h2.9v2.9h-2.9zM378.2 372.1h2.9v2.9h-2.9zM378.2 374.7h2.9v2.9h-2.9zM375.6 385.1h2.9v2.9h-2.9zM315.6 387.7h2.9v2.9h-2.9zM375.6 387.7h2.9v2.9h-2.9zM315.6 390.3h2.9v2.9h-2.9zM373.0 392.9h2.9v2.9h-2.9zM373.0 395.5h2.9v2.9h-2.9zM318.2 398.1h2.9v2.9h-2.9zM318.2 400.7h2.9v2.9h-2.9zM370.4 400.7h2.9v2.9h-2.9zM320.8 406.0h2.9v2.9h-2.9zM367.7 406.0h2.9v2.9h-2.9zM323.4 411.2h2.9v2.9h-2.9zM365.1 411.2h2.9v2.9h-2.9zM326.0 413.8h2.9v2.9h-2.9zM362.5 413.8h2.9v2.9h-2.9zM328.6 416.4h2.9v2.9h-2.9zM359.9 416.4h2.9v2.9h-2.9zM331.2 419.0h2.9v2.9h-2.9zM357.3 419.0h2.9v2.9h-2.9zM333.9 421.6h2.9v2.9h-2.9zM354.7 421.6h2.9v2.9h-2.9zM336.5 424.2h15.9v2.9h-15.9z"/><path fill="#006b95" d="M346.9 309.5h8.1v2.9h-8.1zM339.1 312.1h5.5v2.9h-5.5zM357.3 312.1h2.9v2.9h-2.9zM336.5 314.7h2.9v2.9h-2.9zM333.9 317.3h2.9v2.9h-2.9zM331.2 319.9h2.9v2.9h-2.9zM328.6 322.5h2.9v2.9h-2.9zM367.7 322.5h2.9v2.9h-2.9zM326.0 327.7h2.9v2.9h-2.9zM370.4 327.7h2.9v2.9h-2.9zM323.4 333.0h2.9v2.9h-2.9zM373.0 333.0h2.9v2.9h-2.9zM320.8 338.2h2.9v2.9h-2.9zM375.6 340.8h2.9v2.9h-2.9zM375.6 343.4h2.9v2.9h-2.9zM318.2 346.0h2.9v2.9h-2.9zM315.6 356.4h2.9v2.9h-2.9zM315.6 359.0h2.9v2.9h-2.9zM315.6 361.6h2.9v2.9h-2.9zM315.6 364.2h2.9v2.9h-2.9zM315.6 377.3h2.9v2.9h-2.9zM315.6 379.9h2.9v2.9h-2.9zM375.6 379.9h2.9v2.9h-2.9zM315.6 382.5h2.9v2.9h-2.9zM375.6 382.5h2.9v2.9h-2.9zM315.6 385.1h2.9v2.9h-2.9zM373.0 390.3h2.9v2.9h-2.9zM318.2 395.5h2.9v2.9h-2.9zM370.4 398.1h2.9v2.9h-2.9zM320.8 403.3h2.9v2.9h-2.9zM367.7 403.3h2.9v2.9h-2.9zM323.4 408.6h2.9v2.9h-2.9zM365.1 408.6h2.9v2.9h-2.9zM326.0 411.2h2.9v2.9h-2.9zM362.5 411.2h2.9v2.9h-2.9zM359.9 413.8h2.9v2.9h-2.9zM357.3 416.4h2.9v2.9h-2.9zM333.9 419.0h2.9v2.9h-2.9zM354.7 419.0h2.9v2.9h-2.9zM336.5 421.6h2.9v2.9h-2.9zM349.5 421.6h5.5v2.9h-5.5z"/><path fill="#007891" d="M344.3 312.1h13.3v2.9h-13.3zM339.1 314.7h2.9v2.9h-2.9zM359.9 314.7h2.9v2.9h-2.9zM336.5 317.3h2.9v2.9h-2.9zM362.5 317.3h2.9v2.9h-2.9zM365.1 319.9h2.9v2.9h-2.9zM331.2 322.5h2.9v2.9h-2.9zM328.6 325.1h2.9v2.9h-2.9zM367.7 325.1h2.9v2.9h-2.9zM326.0 330.4h2.9v2.9h-2.9zM370.4 330.4h2.9v2.9h-2.9zM323.4 335.6h2.9v2.9h-2.9zM373.0 335.6h2.9v2.9h-2.9zM373.0 338.2h2.9v2.9h-2.9zM320.8 340.8h2.9v2.9h-2.9zM375.6 346.0h2.9v2.9h-2.9zM318.2 348.6h2.9v2.9h-2.9zM375.6 348.6h2.9v2.9h-2.9zM318.2 351.2h2.9v2.9h-2.9zM375.6 351.2h2.9v2.9h-2.9zM315.6 366.8h2.9v2.9h-2.9zM315.6 369.5h2.9v2.9h-2.9zM315.6 372.1h2.9v2.9h-2.9zM375.6 372.1h2.9v2.9h-2.9zM315.6 374.7h2.9v2.9h-2.9zM375.6 374.7h2.9v2.9h-2.9zM375.6 377.3h2.9v2.9h-2.9zM373.0 387.7h2.9v2.9h-2.9zM318.2 390.3h2.9v2.9h-2.9zM318.2 392.9h2.9v2.9h-2.9zM370.4 395.5h2.9v2.9h-2.9zM320.8 398.1h2.9v2.9h-2.9zM320.8 400.7h2.9v2.9h-2.9zM367.7 400.7h2.9v2.9h-2.9zM323.4 406.0h2.9v2.9h-2.9zM365.1 406.0h2.9v2.9h-2.9zM326.0 408.6h2.9v2.9h-2.9zM362.5 408.6h2.9v2.9h-2.9zM328.6 413.8h2.9v2.9h-2.9zM331.2 416.4h2.9v2.9h-2.9zM336.5 419.0h2.9v2.9h-2.9zM352.1 419.0h2.9v2.9h-2.9zM339.1 421.6h10.7v2.9h-10.7z"/><path fill="#008287" d="M341.7 314.7h2.9v2.9h-2.9zM354.7 314.7h5.5v2.9h-5.5zM359.9 317.3h2.9v2.9h-2.9zM333.9 319.9h2.9v2.9h-2.9zM362.5 319.9h2.9v2.9h-2.9zM365.1 322.5h2.9v2.9h-2.9zM328.6 327.7h2.9v2.9h-2.9zM367.7 327.7h2.9v2.9h-2.9zM370.4 333.0h2.9v2.9h-2.9zM323.4 338.2h2.9v2.9h-2.9zM373.0 340.8h2.9v2.9h-2.9zM320.8 343.4h2.9v2.9h-2.9zM318.2 353.8h2.9v2.9h-2.9zM375.6 353.8h2.9v2.9h-2.9zM318.2 356.4h2.9v2.9h-2.9zM375.6 356.4h2.9v2.9h-2.9zM375.6 359.0h2.9v2.9h-2.9zM375.6 361.6h2.9v2.9h-2.9zM375.6 364.2h2.9v2.9h-2.9zM375.6 366.8h2.9v2.9h-2.9zM375.6 369.5h2.9v2.9h-2.9zM373.0 382.5h2.9v2.9h-2.9zM318.2 385.1h2.9v2.9h-2.9zM373.0 385.1h2.9v2.9h-2.9zM318.2 387.7h2.9v2.9h-2.9zM370.4 392.9h2.9v2.9h-2.9zM320.8 395.5h2.9v2.9h-2.9zM367.7 398.1h2.9v2.9h-2.9zM323.4 403.3h2.9v2.9h-2.9zM365.1 403.3h2.9v2.9h-2.9zM328.6 411.2h2.9v2.9h-2.9zM359.9 411.2h2.9v2.9h-2.9zM331.2 413.8h2.9v2.9h-2.9zM357.3 413.8h2.9v2.9h-2.9zM333.9 416.4h2.9v2.9h-2.9zM354.7 416.4h2.9v2.9h-2.9zM339.1 419.0h2.9v2.9h-2.9zM346.9 419.0h5.5v2.9h-5.5z"/><path fill="#008c7c" d="M344.3 314.7h10.7v2.9h-10.7zM339.1 317.3h2.9v2.9h-2.9zM357.3 317.3h2.9v2.9h-2.9zM336.5 319.9h2.9v2.9h-2.9zM333.9 322.5h2.9v2.9h-2.9zM362.5 322.5h2.9v2.9h-2.9zM331.2 325.1h2.9v2.9h-2.9zM365.1 325.1h2.9v2.9h-2.9zM367.7 330.4h2.9v2.9h-2.9zM326.0 333.0h2.9v2.9h-2.9zM370.4 335.6h2.9v2.9h-2.9zM323.4 340.8h2.9v2.9h-2.9zM373.0 343.4h2.9v2.9h-2.9zM320.8 346.0h2.9v2.9h-2.9zM373.0 346.0h2.9v2.9h-2.9zM320.8 348.6h2.9v2.9h-2.9zM318.2 359.0h2.9v2.9h-2.9zM318.2 361.6h2.9v2.9h-2.9zM318.2 364.2h2.9v2.9h-2.9zM318.2 366.8h2.9v2.9h-2.9zM318.2 374.7h2.9v2.9h-2.9zM318.2 377.3h2.9v2.9h-2.9zM373.0 377.3h2.9v2.9h-2.9zM318.2 379.9h2.9v2.9h-2.9zM373.0 379.9h2.9v2.9h-2.9zM318.2 382.5h2.9v2.9h-2.9zM370.4 390.3h2.9v2.9h-2.9zM320.8 392.9h2.9v2.9h-2.9zM367.7 395.5h2.9v2.9h-2.9zM323.4 400.7h2.9v2.9h-2.9zM365.1 400.7h2.9v2.9h-2.9zM326.0 406.0h2.9v2.9h-2.9zM362.5 406.0h2.9v2.9h-2.9zM328.6 408.6h2.9v2.9h-2.9zM359.9 408.6h2.9v2.9h-2.9zM357.3 411.2h2.9v2.9h-2.9zM333.9 413.8h2.9v2.9h-2.9zM354.7 413.8h2.9v2.9h-2.9zM336.5 416.4h2.9v2.9h-2.9zM352.1 416.4h2.9v2.9h-2.9zM341.7 419.0h5.5v2.9h-5.5z"/><path fill="#009069" d="M341.7 317.3h5.5v2.9h-5.5zM354.7 317.3h2.9v2.9h-2.9zM339.1 319.9h2.9v2.9h-2.9zM359.9 319.9h2.9v2.9h-2.9zM331.2 327.7h2.9v2.9h-2.9zM365.1 327.7h2.9v2.9h-2.9zM328.6 330.4h2.9v2.9h-2.9zM367.7 333.0h2.9v2.9h-2.9zM326.0 335.6h2.9v2.9h-2.9zM370.4 338.2h2.9v2.9h-2.9zM323.4 343.4h2.9v2.9h-2.9zM373.0 348.6h2.9v2.9h-2.9zM320.8 351.2h2.9v2.9h-2.9zM373.0 351.2h2.9v2.9h-2.9zM318.2 369.5h2.9v2.9h-2.9zM318.2 372.1h2.9v2.9h-2.9zM373.0 372.1h2.9v2.9h-2.9zM373.0 374.7h2.9v2.9h-2.9zM370.4 385.1h2.9v2.9h-2.9zM320.8 387.7h2.9v2.9h-2.9zM370.4 387.7h2.9v2.9h-2.9zM320.8 390.3h2.9v2.9h-2.9zM367.7 392.9h2.9v2.9h-2.9zM323.4 398.1h2.9v2.9h-2.9zM326.0 403.3h2.9v2.9h-2.9zM362.5 403.3h2.9v2.9h-2.9zM331.2 411.2h2.9v2.9h-2.9zM352.1 413.8h2.9v2.9h-2.9zM339.1 416.4h13.3v2.9h-13.3z"/><path fill="#009356" d="M346.9 317.3h8.1v2.9h-8.1zM341.7 319.9h2.9v2.9h-2.9zM357.3 319.9h2.9v2.9h-2.9zM336.5 322.5h2.9v2.9h-2.9zM359.9 322.5h2.9v2.9h-2.9zM333.9 325.1h2.9v2.9h-2.9zM362.5 325.1h2.9v2.9h-2.9zM328.6 333.0h2.9v2.9h-2.9zM326.0 338.2h2.9v2.9h-2.9zM370.4 340.8h2.9v2.9h-2.9zM323.4 346.0h2.9v2.9h-2.9zM320.8 353.8h2.9v2.9h-2.9zM373.0 353.8h2.9v2.9h-2.9zM320.8 356.4h2.9v2.9h-2.9zM373.0 356.4h2.9v2.9h-2.9zM373.0 359.0h2.9v2.9h-2.9zM373.0 361.6h2.9v2.9h-2.9zM373.0 364.2h2.9v2.9h-2.9zM373.0 366.8h2.9v2.9h-2.9zM373.0 369.5h2.9v2.9h-2.9zM370.4 382.5h2.9v2.9h-2.9zM320.8 385.1h2.9v2.9h-2.9zM367.7 390.3h2.9v2.9h-2.9zM323.4 395.5h2.9v2.9h-2.9zM365.1 398.1h2.9v2.9h-2.9zM326.0 400.7h2.9v2.9h-2.9zM328.6 406.0h2.9v2.9h-2.9zM359.9 406.0h2.9v2.9h-2.9zM331.2 408.6h2.9v2.9h-2.9zM357.3 408.6h2.9v2.9h-2.9zM333.9 411.2h2.9v2.9h-2.9zM354.7 411.2h2.9v2.9h-2.9zM336.5 413.8h2.9v2.9h-2.9zM349.5 413.8h2.9v2.9h-2.9z"/><path fill="#009645" d="M344.3 319.9h2.9v2.9h-2.9zM354.7 319.9h2.9v2.9h-2.9zM339.1 322.5h2.9v2.9h-2.9zM336.5 325.1h2.9v2.9h-2.9zM333.9 327.7h2.9v2.9h-2.9zM362.5 327.7h2.9v2.9h-2.9zM331.2 330.4h2.9v2.9h-2.9zM365.1 330.4h2.9v2.9h-2.9zM328.6 335.6h2.9v2.9h-2.9zM367.7 335.6h2.9v2.9h-2.9zM326.0 340.8h2.9v2.9h-2.9zM370.4 343.4h2.9v2.9h-2.9zM370.4 346.0h2.9v2.9h-2.9zM323.4 348.6h2.9v2.9h-2.9zM320.8 359.0h2.9v2.9h-2.9zM320.8 361.6h2.9v2.9h-2.9zM320.8 377.3h2.9v2.9h-2.9zM320.8 379.9h2.9v2.9h-2.9zM370.4 379.9h2.9v2.9h-2.9zM320.8 382.5h2.9v2.9h-2.9zM323.4 392.9h2.9v2.9h-2.9zM365.1 395.5h2.9v2.9h-2.9zM326.0 398.1h2.9v2.9h-2.9zM362.5 400.7h2.9v2.9h-2.9zM328.6 403.3h2.9v2.9h-2.9zM359.9 403.3h2.9v2.9h-2.9zM336.5 411.2h2.9v2.9h-2.9zM352.1 411.2h2.9v2.9h-2.9zM339.1 413.8h10.7v2.9h-10.7z"/><path fill="#00943d" d="M346.9 319.9h8.1v2.9h-8.1zM341.7 322.5h2.9v2.9h-2.9zM357.3 322.5h2.9v2.9h-2.9zM359.9 325.1h2.9v2.9h-2.9zM331.2 333.0h2.9v2.9h-2.9zM365.1 333.0h2.9v2.9h-2.9zM367.7 338.2h2.9v2.9h-2.9zM326.0 343.4h2.9v2.9h-2.9zM370.4 348.6h2.9v2.9h-2.9zM323.4 351.2h2.9v2.9h-2.9zM370.4 351.2h2.9v2.9h-2.9zM320.8 364.2h2.9v2.9h-2.9zM320.8 366.8h2.9v2.9h-2.9zM320.8 369.5h2.9v2.9h-2.9zM320.8 372.1h2.9v2.9h-2.9zM320.8 374.7h2.9v2.9h-2.9zM370.4 374.7h2.9v2.9h-2.9zM370.4 377.3h2.9v2.9h-2.9zM323.4 387.7h2.9v2.9h-2.9zM367.7 387.7h2.9v2.9h-2.9zM323.4 390.3h2.9v2.9h-2.9zM365.1 392.9h2.9v2.9h-2.9zM326.0 395.5h2.9v2.9h-2.9zM362.5 398.1h2.9v2.9h-2.9zM328.6 400.7h2.9v2.9h-2.9zM331.2 406.0h2.9v2.9h-2.9zM357.3 406.0h2.9v2.9h-2.9zM333.9 408.6h2.9v2.9h-2.9zM354.7 408.6h2.9v2.9h-2.9z"/><path fill="#009336" d="M344.3 322.5h2.9v2.9h-2.9zM354.7 322.5h2.9v2.9h-2.9zM339.1 325.1h2.9v2.9h-2.9zM336.5 327.7h2.9v2.9h-2.9zM333.9 330.4h2.9v2.9h-2.9zM362.5 330.4h2.9v2.9h-2.9zM365.1 335.6h2.9v2.9h-2.9zM328.6 338.2h2.9v2.9h-2.9zM367.7 340.8h2.9v2.9h-2.9zM323.4 353.8h2.9v2.9h-2.9zM370.4 353.8h2.9v2.9h-2.9zM370.4 356.4h2.9v2.9h-2.9zM370.4 359.0h2.9v2.9h-2.9zM370.4 366.8h2.9v2.9h-2.9zM370.4 369.5h2.9v2.9h-2.9zM370.4 372.1h2.9v2.9h-2.9zM323.4 385.1h2.9v2.9h-2.9zM367.7 385.1h2.9v2.9h-2.9zM359.9 400.7h2.9v2.9h-2.9zM331.2 403.3h2.9v2.9h-2.9zM336.5 408.6h2.9v2.9h-2.9zM352.1 408.6h2.9v2.9h-2.9zM339.1 411.2h5.5v2.9h-5.5zM346.9 411.2h5.5v2.9h-5.5z"/><path fill="#00912e" d="M346.9 322.5h8.1v2.9h-8.1zM357.3 325.1h2.9v2.9h-2.9zM359.9 327.7h2.9v2.9h-2.9zM331.2 335.6h2.9v2.9h-2.9zM328.6 340.8h2.9v2.9h-2.9zM367.7 343.4h2.9v2.9h-2.9zM326.0 346.0h2.9v2.9h-2.9zM323.4 356.4h2.9v2.9h-2.9zM323.4 359.0h2.9v2.9h-2.9zM370.4 361.6h2.9v2.9h-2.9zM370.4 364.2h2.9v2.9h-2.9zM323.4 379.9h2.9v2.9h-2.9zM367.7 379.9h2.9v2.9h-2.9zM323.4 382.5h2.9v2.9h-2.9zM367.7 382.5h2.9v2.9h-2.9zM365.1 390.3h2.9v2.9h-2.9zM326.0 392.9h2.9v2.9h-2.9zM362.5 395.5h2.9v2.9h-2.9zM328.6 398.1h2.9v2.9h-2.9zM357.3 403.3h2.9v2.9h-2.9zM333.9 406.0h2.9v2.9h-2.9zM354.7 406.0h2.9v2.9h-2.9zM344.3 411.2h2.9v2.9h-2.9z"/><path fill="#2e761a" d="M341.7 325.1h2.9v2.9h-2.9zM354.7 325.1h2.9v2.9h-2.9zM339.1 327.7h2.9v2.9h-2.9zM357.3 327.7h2.9v2.9h-2.9zM336.5 330.4h2.9v2.9h-2.9zM359.9 330.4h2.9v2.9h-2.9zM333.9 333.0h2.9v2.9h-2.9zM362.5 333.0h2.9v2.9h-2.9zM365.1 338.2h2.9v2.9h-2.9zM367.7 346.0h2.9v2.9h-2.9zM326.0 348.6h2.9v2.9h-2.9zM367.7 348.6h2.9v2.9h-2.9zM323.4 361.6h2.9v2.9h-2.9zM323.4 364.2h2.9v2.9h-2.9zM323.4 366.8h2.9v2.9h-2.9zM323.4 369.5h2.9v2.9h-2.9zM323.4 372.1h2.9v2.9h-2.9zM323.4 374.7h2.9v2.9h-2.9zM323.4 377.3h2.9v2.9h-2.9zM367.7 377.3h2.9v2.9h-2.9zM365.1 387.7h2.9v2.9h-2.9zM326.0 390.3h2.9v2.9h-2.9zM362.5 392.9h2.9v2.9h-2.9zM328.6 395.5h2.9v2.9h-2.9zM359.9 398.1h2.9v2.9h-2.9zM331.2 400.7h2.9v2.9h-2.9zM333.9 403.3h2.9v2.9h-2.9zM336.5 406.0h2.9v2.9h-2.9zM339.1 408.6h5.5v2.9h-5.5zM349.5 408.6h2.9v2.9h-2.9z"/><path fill="#675403" d="M344.3 325.1h10.7v2.9h-10.7zM362.5 335.6h2.9v2.9h-2.9zM331.2 338.2h2.9v2.9h-2.9zM365.1 340.8h2.9v2.9h-2.9zM328.6 343.4h2.9v2.9h-2.9zM326.0 351.2h2.9v2.9h-2.9zM367.7 351.2h2.9v2.9h-2.9zM367.7 374.7h2.9v2.9h-2.9zM365.1 385.1h2.9v2.9h-2.9zM326.0 387.7h2.9v2.9h-2.9zM357.3 400.7h2.9v2.9h-2.9zM354.7 403.3h2.9v2.9h-2.9zM352.1 406.0h2.9v2.9h-2.9zM344.3 408.6h5.5v2.9h-5.5z"/><path fill="#973900" d="M341.7 327.7h2.9v2.9h-2.9zM354.7 327.7h2.9v2.9h-2.9zM339.1 330.4h2.9v2.9h-2.9zM357.3 330.4h2.9v2.9h-2.9zM336.5 333.0h2.9v2.9h-2.9zM359.9 333.0h2.9v2.9h-2.9zM333.9 335.6h2.9v2.9h-2.9zM331.2 340.8h2.9v2.9h-2.9zM365.1 343.4h2.9v2.9h-2.9zM328.6 346.0h2.9v2.9h-2.9zM326.0 353.8h2.9v2.9h-2.9zM367.7 353.8h2.9v2.9h-2.9zM326.0 356.4h2.9v2.9h-2.9zM367.7 356.4h2.9v2.9h-2.9zM367.7 359.0h2.9v2.9h-2.9zM367.7 361.6h2.9v2.9h-2.9zM367.7 364.2h2.9v2.9h-2.9zM367.7 366.8h2.9v2.9h-2.9zM367.7 369.5h2.9v2.9h-2.9zM367.7 372.1h2.9v2.9h-2.9zM326.0 382.5h2.9v2.9h-2.9zM365.1 382.5h2.9v2.9h-2.9zM326.0 385.1h2.9v2.9h-2.9zM362.5 390.3h2.9v2.9h-2.9zM328.6 392.9h2.9v2.9h-2.9zM359.9 395.5h2.9v2.9h-2.9zM331.2 398.1h2.9v2.9h-2.9zM333.9 400.7h2.9v2.9h-2.9zM336.5 403.3h2.9v2.9h-2.9zM339.1 406.0h2.9v2.9h-2.9zM349.5 406.0h2.9v2.9h-2.9z"/><path fill="#c61f00" d="M344.3 327.7h2.9v2.9h-2.9zM352.1 327.7h2.9v2.9h-2.9zM362.5 338.2h2.9v2.9h-2.9zM365.1 346.0h2.9v2.9h-2.9zM328.6 348.6h2.9v2.9h-2.9zM326.0 359.0h2.9v2.9h-2.9zM326.0 379.9h2.9v2.9h-2.9zM365.1 379.9h2.9v2.9h-2.9zM362.5 387.7h2.9v2.9h-2.9zM328.6 390.3h2.9v2.9h-2.9zM359.9 392.9h2.9v2.9h-2.9zM331.2 395.5h2.9v2.9h-2.9zM357.3 398.1h2.9v2.9h-2.9zM354.7 400.7h2.9v2.9h-2.9zM352.1 403.3h2.9v2.9h-2.9zM341.7 406.0h8.1v2.9h-8.1z"/><path fill="#cc1d00" d="M346.9 327.7h5.5v2.9h-5.5zM341.7 330.4h2.9v2.9h-2.9zM354.7 330.4h2.9v2.9h-2.9zM357.3 333.0h2.9v2.9h-2.9zM336.5 335.6h2.9v2.9h-2.9zM359.9 335.6h2.9v2.9h-2.9zM333.9 338.2h2.9v2.9h-2.9zM362.5 340.8h2.9v2.9h-2.9zM331.2 343.4h2.9v2.9h-2.9zM365.1 348.6h2.9v2.9h-2.9zM328.6 351.2h2.9v2.9h-2.9zM326.0 361.6h2.9v2.9h-2.9zM326.0 364.2h2.9v2.9h-2.9zM326.0 366.8h2.9v2.9h-2.9zM326.0 369.5h2.9v2.9h-2.9zM326.0 372.1h2.9v2.9h-2.9zM326.0 374.7h2.9v2.9h-2.9zM326.0 377.3h2.9v2.9h-2.9zM365.1 377.3h2.9v2.9h-2.9zM328.6 387.7h2.9v2.9h-2.9zM333.9 398.1h2.9v2.9h-2.9zM339.1 403.3h2.9v2.9h-2.9zM349.5 403.3h2.9v2.9h-2.9z"/><path fill="#d11c00" d="M344.3 330.4h2.9v2.9h-2.9zM352.1 330.4h2.9v2.9h-2.9zM339.1 333.0h2.9v2.9h-2.9zM333.9 340.8h2.9v2.9h-2.9zM331.2 346.0h2.9v2.9h-2.9zM365.1 351.2h2.9v2.9h-2.9zM328.6 353.8h2.9v2.9h-2.9zM365.1 374.7h2.9v2.9h-2.9zM328.6 385.1h2.9v2.9h-2.9zM362.5 385.1h2.9v2.9h-2.9zM359.9 390.3h2.9v2.9h-2.9zM331.2 392.9h2.9v2.9h-2.9zM357.3 395.5h2.9v2.9h-2.9zM354.7 398.1h2.9v2.9h-2.9zM336.5 400.7h2.9v2.9h-2.9zM352.1 400.7h2.9v2.9h-2.9zM341.7 403.3h2.9v2.9h-2.9zM346.9 403.3h2.9v2.9h-2.9z"/><path fill="#d51b00" d="M346.9 330.4h5.5v2.9h-5.5zM341.7 333.0h2.9v2.9h-2.9zM354.7 333.0h2.9v2.9h-2.9zM336.5 338.2h2.9v2.9h-2.9zM359.9 338.2h2.9v2.9h-2.9zM362.5 343.4h2.9v2.9h-2.9zM365.1 353.8h2.9v2.9h-2.9zM328.6 356.4h2.9v2.9h-2.9zM365.1 356.4h2.9v2.9h-2.9zM365.1 369.5h2.9v2.9h-2.9zM365.1 372.1h2.9v2.9h-2.9zM328.6 382.5h2.9v2.9h-2.9zM362.5 382.5h2.9v2.9h-2.9zM331.2 390.3h2.9v2.9h-2.9zM333.9 395.5h2.9v2.9h-2.9zM339.1 400.7h2.9v2.9h-2.9zM344.3 403.3h2.9v2.9h-2.9z"/><path fill="#de1a00" d="M344.3 333.0h2.9v2.9h-2.9zM352.1 333.0h2.9v2.9h-2.9zM362.5 348.6h2.9v2.9h-2.9zM331.2 351.2h2.9v2.9h-2.9zM328.6 361.6h2.9v2.9h-2.9zM328.6 364.2h2.9v2.9h-2.9zM328.6 374.7h2.9v2.9h-2.9zM328.6 377.3h2.9v2.9h-2.9zM362.5 377.3h2.9v2.9h-2.9zM331.2 387.7h2.9v2.9h-2.9zM333.9 392.9h2.9v2.9h-2.9zM354.7 395.5h2.9v2.9h-2.9zM352.1 398.1h2.9v2.9h-2.9zM341.7 400.7h8.1v2.9h-8.1z"/><path fill="#e11b00" d="M346.9 333.0h5.5v2.9h-5.5zM341.7 335.6h2.9v2.9h-2.9zM354.7 335.6h2.9v2.9h-2.9zM339.1 338.2h2.9v2.9h-2.9zM357.3 338.2h2.9v2.9h-2.9zM336.5 340.8h2.9v2.9h-2.9zM359.9 343.4h2.9v2.9h-2.9zM333.9 346.0h2.9v2.9h-2.9zM362.5 351.2h2.9v2.9h-2.9zM331.2 353.8h2.9v2.9h-2.9zM328.6 366.8h2.9v2.9h-2.9zM328.6 369.5h2.9v2.9h-2.9zM328.6 372.1h2.9v2.9h-2.9zM362.5 374.7h2.9v2.9h-2.9zM331.2 385.1h2.9v2.9h-2.9zM359.9 385.1h2.9v2.9h-2.9zM357.3 390.3h2.9v2.9h-2.9zM336.5 395.5h2.9v2.9h-2.9zM339.1 398.1h2.9v2.9h-2.9zM349.5 398.1h2.9v2.9h-2.9z"/><path fill="#d91b00" d="M339.1 335.6h2.9v2.9h-2.9zM357.3 335.6h2.9v2.9h-2.9zM359.9 340.8h2.9v2.9h-2.9zM333.9 343.4h2.9v2.9h-2.9zM362.5 346.0h2.9v2.9h-2.9zM331.2 348.6h2.9v2.9h-2.9zM328.6 359.0h2.9v2.9h-2.9zM365.1 359.0h2.9v2.9h-2.9zM365.1 361.6h2.9v2.9h-2.9zM365.1 364.2h2.9v2.9h-2.9zM365.1 366.8h2.9v2.9h-2.9zM328.6 379.9h2.9v2.9h-2.9zM362.5 379.9h2.9v2.9h-2.9zM359.9 387.7h2.9v2.9h-2.9zM357.3 392.9h2.9v2.9h-2.9zM336.5 398.1h2.9v2.9h-2.9zM349.5 400.7h2.9v2.9h-2.9z"/><path fill="#e42200" d="M344.3 335.6h2.9v2.9h-2.9zM352.1 335.6h2.9v2.9h-2.9zM357.3 340.8h2.9v2.9h-2.9zM362.5 353.8h2.9v2.9h-2.9zM362.5 356.4h2.9v2.9h-2.9zM362.5 372.1h2.9v2.9h-2.9zM331.2 382.5h2.9v2.9h-2.9zM359.9 382.5h2.9v2.9h-2.9zM333.9 390.3h2.9v2.9h-2.9zM354.7 392.9h2.9v2.9h-2.9zM352.1 395.5h2.9v2.9h-2.9zM341.7 398.1h2.9v2.9h-2.9zM346.9 398.1h2.9v2.9h-2.9z"/><path fill="#e62a00" d="M346.9 335.6h5.5v2.9h-5.5zM341.7 338.2h2.9v2.9h-2.9zM354.7 338.2h2.9v2.9h-2.9zM339.1 340.8h2.9v2.9h-2.9zM336.5 343.4h2.9v2.9h-2.9zM359.9 346.0h2.9v2.9h-2.9zM333.9 348.6h2.9v2.9h-2.9zM331.2 356.4h2.9v2.9h-2.9zM331.2 359.0h2.9v2.9h-2.9zM362.5 359.0h2.9v2.9h-2.9zM362.5 361.6h2.9v2.9h-2.9zM362.5 364.2h2.9v2.9h-2.9zM362.5 366.8h2.9v2.9h-2.9zM362.5 369.5h2.9v2.9h-2.9zM331.2 379.9h2.9v2.9h-2.9zM333.9 387.7h2.9v2.9h-2.9zM357.3 387.7h2.9v2.9h-2.9zM336.5 392.9h2.9v2.9h-2.9zM339.1 395.5h2.9v2.9h-2.9zM344.3 398.1h2.9v2.9h-2.9z"/><path fill="#ea3a00" d="M344.3 338.2h2.9v2.9h-2.9zM352.1 338.2h2.9v2.9h-2.9zM354.7 340.8h2.9v2.9h-2.9zM339.1 343.4h2.9v2.9h-2.9zM359.9 351.2h2.9v2.9h-2.9zM331.2 364.2h2.9v2.9h-2.9zM331.2 366.8h2.9v2.9h-2.9zM331.2 369.5h2.9v2.9h-2.9zM331.2 372.1h2.9v2.9h-2.9zM359.9 377.3h2.9v2.9h-2.9zM333.9 385.1h2.9v2.9h-2.9zM336.5 390.3h2.9v2.9h-2.9zM339.1 392.9h2.9v2.9h-2.9zM344.3 395.5h5.5v2.9h-5.5z"/><path fill="#ed4200" d="M346.9 338.2h5.5v2.9h-5.5zM341.7 340.8h2.9v2.9h-2.9zM357.3 346.0h2.9v2.9h-2.9zM336.5 348.6h2.9v2.9h-2.9zM333.9 353.8h2.9v2.9h-2.9zM359.9 353.8h2.9v2.9h-2.9zM359.9 374.7h2.9v2.9h-2.9zM333.9 382.5h2.9v2.9h-2.9zM357.3 382.5h2.9v2.9h-2.9zM336.5 387.7h2.9v2.9h-2.9zM354.7 387.7h2.9v2.9h-2.9zM349.5 392.9h2.9v2.9h-2.9z"/><path fill="#ef4c00" d="M344.3 340.8h2.9v2.9h-2.9zM352.1 340.8h2.9v2.9h-2.9zM354.7 343.4h2.9v2.9h-2.9zM333.9 356.4h2.9v2.9h-2.9zM359.9 356.4h2.9v2.9h-2.9zM359.9 359.0h2.9v2.9h-2.9zM359.9 369.5h2.9v2.9h-2.9zM359.9 372.1h2.9v2.9h-2.9zM333.9 379.9h2.9v2.9h-2.9zM339.1 390.3h2.9v2.9h-2.9zM352.1 390.3h2.9v2.9h-2.9zM341.7 392.9h2.9v2.9h-2.9z"/><path fill="#f05900" d="M346.9 340.8h5.5v2.9h-5.5zM341.7 343.4h2.9v2.9h-2.9zM339.1 346.0h2.9v2.9h-2.9zM357.3 348.6h2.9v2.9h-2.9zM336.5 351.2h2.9v2.9h-2.9zM333.9 359.0h2.9v2.9h-2.9zM359.9 361.6h2.9v2.9h-2.9zM359.9 364.2h2.9v2.9h-2.9zM359.9 366.8h2.9v2.9h-2.9zM333.9 377.3h2.9v2.9h-2.9zM357.3 379.9h2.9v2.9h-2.9zM336.5 385.1h2.9v2.9h-2.9zM354.7 385.1h2.9v2.9h-2.9zM344.3 392.9h5.5v2.9h-5.5z"/><path fill="#f47300" d="M344.3 343.4h2.9v2.9h-2.9zM349.5 343.4h2.9v2.9h-2.9zM341.7 346.0h2.9v2.9h-2.9zM339.1 348.6h2.9v2.9h-2.9zM357.3 353.8h2.9v2.9h-2.9zM357.3 374.7h2.9v2.9h-2.9zM336.5 382.5h2.9v2.9h-2.9zM354.7 382.5h2.9v2.9h-2.9zM344.3 390.3h5.5v2.9h-5.5z"/><path fill="#f68000" d="M346.9 343.4h2.9v2.9h-2.9zM352.1 346.0h2.9v2.9h-2.9zM354.7 348.6h2.9v2.9h-2.9zM339.1 351.2h2.9v2.9h-2.9zM336.5 356.4h2.9v2.9h-2.9zM357.3 356.4h2.9v2.9h-2.9zM357.3 372.1h2.9v2.9h-2.9zM336.5 379.9h2.9v2.9h-2.9zM339.1 385.1h2.9v2.9h-2.9zM352.1 385.1h2.9v2.9h-2.9zM341.7 387.7h2.9v2.9h-2.9zM349.5 387.7h2.9v2.9h-2.9z"/><path fill="#f26600" d="M352.1 343.4h2.9v2.9h-2.9zM354.7 346.0h2.9v2.9h-2.9zM357.3 351.2h2.9v2.9h-2.9zM336.5 353.8h2.9v2.9h-2.9zM333.9 361.6h2.9v2.9h-2.9zM333.9 364.2h2.9v2.9h-2.9zM333.9 366.8h2.9v2.9h-2.9zM333.9 369.5h2.9v2.9h-2.9zM333.9 372.1h2.9v2.9h-2.9zM333.9 374.7h2.9v2.9h-2.9zM357.3 377.3h2.9v2.9h-2.9zM339.1 387.7h2.9v2.9h-2.9zM352.1 387.7h2.9v2.9h-2.9zM341.7 390.3h2.9v2.9h-2.9zM349.5 390.3h2.9v2.9h-2.9z"/><path fill="#e83200" d="M357.3 343.4h2.9v2.9h-2.9zM336.5 346.0h2.9v2.9h-2.9zM359.9 348.6h2.9v2.9h-2.9zM333.9 351.2h2.9v2.9h-2.9zM331.2 361.6h2.9v2.9h-2.9zM331.2 374.7h2.9v2.9h-2.9zM331.2 377.3h2.9v2.9h-2.9zM359.9 379.9h2.9v2.9h-2.9zM357.3 385.1h2.9v2.9h-2.9zM354.7 390.3h2.9v2.9h-2.9zM352.1 392.9h2.9v2.9h-2.9zM341.7 395.5h2.9v2.9h-2.9zM349.5 395.5h2.9v2.9h-2.9z"/><path fill="#f78d00" d="M344.3 346.0h2.9v2.9h-2.9zM341.7 348.6h2.9v2.9h-2.9zM354.7 351.2h2.9v2.9h-2.9zM336.5 359.0h2.9v2.9h-2.9zM357.3 359.0h2.9v2.9h-2.9zM357.3 361.6h2.9v2.9h-2.9zM357.3 364.2h2.9v2.9h-2.9zM357.3 366.8h2.9v2.9h-2.9zM357.3 369.5h2.9v2.9h-2.9zM336.5 377.3h2.9v2.9h-2.9zM354.7 379.9h2.9v2.9h-2.9zM344.3 387.7h5.5v2.9h-5.5z"/><path fill="#f99d00" d="M346.9 346.0h5.5v2.9h-5.5zM352.1 348.6h2.9v2.9h-2.9zM339.1 353.8h2.9v2.9h-2.9zM336.5 361.6h2.9v2.9h-2.9zM336.5 364.2h2.9v2.9h-2.9zM336.5 372.1h2.9v2.9h-2.9zM336.5 374.7h2.9v2.9h-2.9zM354.7 377.3h2.9v2.9h-2.9zM339.1 382.5h2.9v2.9h-2.9zM352.1 382.5h2.9v2.9h-2.9zM341.7 385.1h2.9v2.9h-2.9zM349.5 385.1h2.9v2.9h-2.9z"/><path fill="#faad00" d="M344.3 348.6h2.9v2.9h-2.9zM341.7 351.2h2.9v2.9h-2.9zM354.7 353.8h2.9v2.9h-2.9zM339.1 356.4h2.9v2.9h-2.9zM336.5 366.8h2.9v2.9h-2.9zM336.5 369.5h2.9v2.9h-2.9zM354.7 374.7h2.9v2.9h-2.9zM339.1 379.9h2.9v2.9h-2.9z"/><path fill="#fbbe00" d="M346.9 348.6h5.5v2.9h-5.5zM352.1 351.2h2.9v2.9h-2.9zM354.7 356.4h2.9v2.9h-2.9zM354.7 372.1h2.9v2.9h-2.9zM339.1 377.3h2.9v2.9h-2.9zM352.1 379.9h2.9v2.9h-2.9zM341.7 382.5h2.9v2.9h-2.9zM349.5 382.5h2.9v2.9h-2.9zM344.3 385.1h5.5v2.9h-5.5z"/><path fill="#fdcf00" d="M344.3 351.2h2.9v2.9h-2.9zM341.7 353.8h2.9v2.9h-2.9zM339.1 359.0h2.9v2.9h-2.9zM354.7 359.0h2.9v2.9h-2.9zM354.7 361.6h2.9v2.9h-2.9zM354.7 364.2h2.9v2.9h-2.9zM354.7 366.8h2.9v2.9h-2.9zM354.7 369.5h2.9v2.9h-2.9zM339.1 374.7h2.9v2.9h-2.9zM352.1 377.3h2.9v2.9h-2.9z"/><path fill="#fddc00" d="M346.9 351.2h5.5v2.9h-5.5zM352.1 353.8h2.9v2.9h-2.9zM341.7 356.4h2.9v2.9h-2.9zM339.1 361.6h2.9v2.9h-2.9zM339.1 364.2h2.9v2.9h-2.9zM339.1 366.8h2.9v2.9h-2.9zM339.1 369.5h2.9v2.9h-2.9zM339.1 372.1h2.9v2.9h-2.9zM341.7 379.9h2.9v2.9h-2.9zM349.5 379.9h2.9v2.9h-2.9zM344.3 382.5h5.5v2.9h-5.5z"/><path fill="#fee800" d="M344.3 353.8h2.9v2.9h-2.9zM349.5 353.8h2.9v2.9h-2.9zM352.1 356.4h2.9v2.9h-2.9zM352.1 374.7h2.9v2.9h-2.9zM341.7 377.3h2.9v2.9h-2.9zM344.3 379.9h5.5v2.9h-5.5z"/><path fill="#fef300" d="M346.9 353.8h2.9v2.9h-2.9zM344.3 356.4h2.9v2.9h-2.9zM341.7 359.0h2.9v2.9h-2.9zM352.1 359.0h2.9v2.9h-2.9zM352.1 361.6h2.9v2.9h-2.9zM352.1 369.5h2.9v2.9h-2.9zM352.1 372.1h2.9v2.9h-2.9zM341.7 374.7h2.9v2.9h-2.9zM349.5 377.3h2.9v2.9h-2.9z"/><path fill="#ffff00" d="M346.9 356.4h5.5v2.9h-5.5zM344.3 359.0h8.1v2.9h-8.1zM341.7 361.6h10.7v2.9h-10.7zM341.7 364.2h13.3v2.9h-13.3zM341.7 366.8h13.3v2.9h-13.3zM341.7 369.5h10.7v2.9h-10.7zM341.7 372.1h10.7v2.9h-10.7zM344.3 374.7h8.1v2.9h-8.1zM344.3 377.3h5.5v2.9h-5.5z"/></g>
<g fill="none" stroke="#ffff00" stroke-width="2.15" stroke-linejoin="round"><path d="M614.0 518.0L610.0 518.2 607.0 517.5 604.0 515.9 601.0 513.3 598.4 510.0 596.0 506.0 590.0 492.7 588.0 489.0 585.0 485.3 583.0 483.8 581.0 482.9 567.0 479.8 562.0 478.0 552.0 473.6 547.0 471.7 542.0 470.3 537.0 469.7 532.0 469.9 527.0 471.1 523.0 472.8 513.0 478.2 508.0 479.9 505.0 480.2 503.0 480.1 500.0 479.2 498.0 478.1 496.0 476.4 494.0 474.1 491.0 469.0 489.0 464.3 484.5 451.0 481.8 444.0 478.3 437.0 474.6 431.0 470.0 425.0 465.0 420.3 461.0 418.0 459.0 417.3 456.0 416.9 452.0 417.4 447.0 419.6 443.0 422.2 431.0 431.2 423.0 435.9 416.0 439.0 395.0 447.0 390.0 449.5 386.0 452.2 381.0 456.6 375.0 463.7 369.8 471.0 359.0 487.5 353.0 495.6 348.0 500.8 345.0 503.2 342.0 505.1 337.0 507.3 332.0 508.5 327.0 509.0 321.0 508.8 316.0 507.8 311.0 506.2 306.0 503.6 302.0 500.8 298.0 497.1 295.0 493.7 292.0 489.6 289.2 485.0 286.6 480.0 284.0 474.0 280.1 462.0 277.1 448.0 275.1 432.0 274.3 416.0 274.7 400.0 276.4 382.0 279.4 359.0 281.7 347.0 284.8 336.0 288.0 327.2 295.0 309.6 301.4 295.0 304.5 289.0 308.0 283.3 316.3 272.0 324.5 263.0 333.0 255.3 341.0 249.5 350.0 244.5 358.0 241.4 366.0 239.3 374.0 238.2 389.0 237.3 393.0 236.6 397.0 235.6 401.0 234.0 406.0 231.3 422.0 220.3 429.7 216.0 434.0 214.3 438.0 213.1 442.0 212.4 447.0 212.0 452.0 212.4 457.0 213.3 478.0 219.2 484.0 220.2 499.0 221.7 504.0 222.8 508.0 224.1 513.0 226.6 517.0 229.2 522.0 233.5 534.0 245.4 538.0 248.3 542.0 250.0 545.0 250.7 549.0 250.8 562.0 248.9 566.0 248.7 570.0 249.1 574.0 250.3 578.0 252.5 582.0 256.1 585.2 260.0 592.0 269.8 594.0 272.1 596.0 273.4 598.0 273.7 599.0 273.4 600.9 272.0 603.0 269.2 605.1 265.0 607.3 259.0 609.8 248.0 613.4 224.0 615.5 213.0 618.9 201.0 622.6 192.0 625.0 187.7 627.7 184.0 630.0 181.6 633.0 179.5 636.0 178.3 639.0 178.1 642.0 179.0 644.0 180.2 646.0 182.1 648.0 184.7 651.0 190.8 653.4 199.0 654.9 208.0 655.3 215.0 655.2 222.0 653.1 245.0 652.9 255.0 653.8 264.0 658.4 289.0 660.4 304.0 661.7 325.0 661.8 334.0 661.4 342.0 660.7 348.0 659.2 354.0 657.3 359.0 654.6 364.0 648.1 373.0 629.3 395.0 626.0 400.0 624.3 404.0 623.9 408.0 625.0 411.2 627.2 414.0 634.0 420.3 637.0 423.7 640.4 429.0 643.0 435.0 644.9 442.0 646.0 450.0 646.4 458.0 646.0 467.0 644.7 476.0 642.3 485.0 639.0 493.0 635.1 500.0 630.0 506.9 625.0 512.0 622.0 514.4 619.0 516.2 614.0 518.0ZM329.0 500.2L323.0 500.5 318.0 499.9 313.0 498.4 308.0 495.9 303.0 492.1 299.1 488.0 295.4 483.0 291.8 477.0 288.6 470.0 286.0 462.7 283.6 454.0 281.7 445.0 280.3 435.0 279.2 424.0 278.9 414.0 279.0 404.0 280.7 384.0 284.1 357.0 286.9 344.0 291.5 331.0 305.0 300.0 308.6 293.0 312.2 287.0 318.0 278.8 324.7 271.0 331.8 264.0 339.0 258.1 344.0 254.7 350.0 251.3 356.0 248.7 362.0 246.7 367.0 245.7 372.0 245.0 392.0 244.3 396.0 243.6 400.0 242.4 404.0 240.6 408.7 238.0 426.0 226.3 431.0 223.8 435.0 222.2 439.0 221.2 444.0 220.6 449.0 220.8 454.0 221.6 460.0 223.3 476.0 228.8 482.0 230.0 497.0 232.3 502.0 233.7 506.0 235.4 511.0 238.3 516.0 242.4 529.0 256.2 533.0 259.9 537.0 262.7 540.0 264.2 543.0 265.1 547.0 265.6 558.0 265.4 563.0 265.7 567.0 266.8 571.0 269.0 573.4 271.0 576.0 273.8 580.0 280.2 584.2 290.0 589.0 305.3 591.0 310.7 592.4 313.0 594.0 314.1 595.0 314.0 596.0 313.4 599.0 309.8 616.0 279.7 621.0 272.2 625.0 267.6 627.0 266.0 629.0 265.0 632.0 264.8 635.0 266.3 637.0 268.1 639.0 270.6 643.0 277.3 646.6 286.0 649.0 295.0 650.6 305.0 651.3 316.0 651.0 327.0 649.7 337.0 647.5 346.0 644.8 353.0 641.4 359.0 637.0 365.0 632.0 370.1 627.0 373.9 622.0 376.7 618.0 378.3 610.0 380.7 606.7 382.0 604.0 383.9 602.0 386.4 600.0 390.8 598.6 396.0 594.7 423.0 592.4 433.0 590.4 438.0 587.6 443.0 584.4 447.0 581.0 450.0 576.0 452.9 573.0 453.9 570.0 454.4 564.0 454.2 557.0 452.5 549.0 449.6 541.8 446.0 536.0 442.0 527.0 434.0 525.0 432.9 523.0 432.3 521.0 432.3 519.0 432.8 511.0 436.0 507.0 437.1 504.0 437.2 500.0 436.4 495.0 433.9 490.0 430.2 474.3 415.0 468.0 409.9 464.0 407.7 461.0 406.7 458.0 406.3 454.0 406.6 450.0 407.9 445.0 410.8 429.3 423.0 421.6 428.0 413.0 432.1 394.0 439.4 390.0 441.4 386.0 444.1 381.0 448.6 376.0 454.4 358.0 479.8 354.0 484.9 350.0 489.2 345.0 493.4 340.0 496.6 335.0 498.7 329.0 500.2ZM620.0 487.3L618.0 487.6 616.0 487.2 614.0 485.7 612.7 484.0 611.4 481.0 610.6 478.0 610.2 471.0 610.6 467.0 611.5 463.0 612.5 460.0 614.0 457.0 616.0 454.4 618.0 452.7 620.0 451.7 622.0 451.4 624.0 451.8 625.0 452.3 626.8 454.0 628.1 456.0 629.0 458.1 629.9 462.0 630.2 468.0 629.0 475.0 627.0 480.2 624.0 484.5 622.0 486.3 620.0 487.3ZM331.0 492.1L326.0 492.7 321.0 492.3 316.1 491.0 312.0 489.1 308.0 486.3 304.0 482.6 300.3 478.0 297.0 472.8 294.0 466.8 291.3 460.0 289.0 452.8 286.9 444.0 285.3 435.0 284.1 425.0 283.6 416.0 283.6 407.0 284.6 390.0 287.9 361.0 290.2 349.0 293.4 339.0 296.3 332.0 310.0 302.5 315.6 292.0 320.0 285.3 325.0 279.0 330.5 273.0 336.0 267.9 341.0 263.9 347.0 259.9 353.0 256.7 359.0 254.3 365.0 252.7 371.0 251.9 377.0 251.7 391.0 252.0 395.0 251.7 399.0 250.9 404.0 249.1 409.0 246.6 425.0 236.0 432.0 232.3 435.5 231.0 439.0 230.1 443.0 229.7 447.0 229.8 452.0 230.7 456.3 232.0 471.0 238.4 476.0 240.3 481.0 241.6 494.0 244.2 498.0 245.4 502.0 247.2 507.0 250.4 512.0 254.7 516.1 259.0 529.0 273.9 533.0 277.7 536.0 280.0 539.0 281.8 543.0 283.4 547.0 284.3 556.0 285.6 560.0 286.8 564.0 289.1 566.9 292.0 569.0 295.0 570.6 298.0 573.0 305.3 574.5 315.0 574.8 326.0 574.2 335.0 573.2 344.0 567.8 377.0 566.6 398.0 565.6 402.0 564.0 404.3 562.0 405.0 560.0 404.3 558.0 402.4 552.5 394.0 549.2 390.0 545.0 387.0 541.0 385.8 537.0 386.2 532.0 388.5 526.0 393.1 515.0 403.4 510.0 407.5 504.0 411.1 499.0 412.6 494.0 412.3 489.0 410.6 484.0 407.7 471.7 399.0 468.0 396.9 465.0 395.6 462.0 394.9 459.0 394.6 456.0 394.9 453.0 395.7 449.0 397.5 444.0 400.8 427.0 414.8 419.0 420.4 410.1 425.0 393.0 432.1 389.0 434.3 386.0 436.4 381.0 440.9 376.0 446.6 358.0 471.7 354.0 476.8 350.0 481.2 345.8 485.0 341.0 488.3 336.0 490.7 331.0 492.1ZM625.0 348.0L622.0 348.6 620.0 348.1 618.0 346.8 616.0 344.3 614.6 341.0 613.8 337.0 613.4 333.0 613.6 328.0 614.4 323.0 615.7 318.0 617.1 314.0 619.1 310.0 621.1 307.0 624.0 304.0 627.0 302.4 629.0 302.3 631.0 303.1 632.1 304.0 634.0 306.5 635.1 309.0 636.0 312.1 636.6 316.0 636.9 320.0 636.7 325.0 635.3 333.0 633.0 339.4 631.0 342.9 629.0 345.3 627.0 347.0 625.0 348.0ZM332.0 484.2L328.0 484.6 324.0 484.4 320.0 483.4 316.0 481.6 312.1 479.0 308.7 476.0 305.2 472.0 302.0 467.3 299.1 462.0 296.8 457.0 294.6 451.0 292.5 444.0 290.9 437.0 289.6 429.0 288.8 422.0 288.4 414.0 288.7 398.0 290.8 375.0 292.8 359.0 295.3 348.0 297.0 342.9 299.5 337.0 308.6 319.0 317.0 301.2 321.6 293.0 326.6 286.0 333.0 278.7 340.4 272.0 348.0 266.7 356.0 262.6 363.0 260.3 370.0 259.2 377.0 259.1 392.0 260.4 397.0 260.2 401.0 259.4 406.0 257.7 411.0 255.2 425.0 246.3 430.0 243.5 435.0 241.5 440.0 240.4 446.0 240.5 452.0 242.1 457.9 245.0 469.0 252.2 474.0 255.0 479.0 256.8 489.0 259.2 494.0 260.7 498.7 263.0 503.0 265.9 508.0 270.5 513.0 276.1 519.8 285.0 528.3 297.0 535.7 308.0 539.3 314.0 541.7 319.0 543.0 324.0 543.2 328.0 542.7 332.0 541.1 337.0 538.5 343.0 533.3 353.0 527.4 363.0 522.9 370.0 518.0 376.7 512.0 383.5 506.8 388.0 504.0 389.9 501.0 391.3 496.0 392.4 492.0 392.2 487.0 390.7 483.0 388.8 471.0 382.0 465.0 379.7 461.0 379.2 458.0 379.4 455.0 380.3 452.0 381.7 448.0 384.3 444.0 387.5 425.2 405.0 417.0 411.6 408.2 417.0 392.0 424.9 385.0 429.7 380.0 434.5 375.0 440.2 357.0 464.9 350.0 473.4 346.0 477.1 341.0 480.7 337.0 482.7 332.0 484.2ZM335.0 475.2L331.0 475.9 327.0 475.8 323.7 475.0 320.0 473.5 316.0 470.9 312.7 468.0 309.0 463.9 306.0 459.7 303.0 454.4 300.5 449.0 298.3 443.0 296.6 437.0 295.1 430.0 294.1 423.0 293.2 409.0 293.7 394.0 296.0 370.0 297.8 358.0 300.1 349.0 301.9 344.0 304.2 339.0 314.0 321.0 323.2 302.0 328.1 294.0 333.6 287.0 339.6 281.0 346.0 276.0 353.0 271.9 360.0 269.0 366.0 267.6 373.0 267.2 379.0 267.8 393.0 270.5 398.0 270.7 402.0 270.2 407.0 268.8 412.0 266.6 426.0 258.6 431.0 256.1 436.0 254.5 440.0 254.1 443.0 254.4 446.0 255.2 449.0 256.5 452.0 258.4 457.3 263.0 468.0 274.3 473.0 278.2 478.0 280.5 488.0 283.0 492.0 284.5 496.0 286.6 500.0 289.7 503.0 292.7 506.0 296.3 508.5 300.0 511.0 304.4 513.0 308.9 514.4 313.0 515.3 317.0 516.1 322.0 516.3 327.0 516.0 332.0 515.3 337.0 514.1 342.0 512.4 347.0 510.5 351.0 508.2 355.0 505.9 358.0 503.0 360.8 500.0 362.9 497.0 364.2 493.0 364.9 489.0 364.6 485.0 363.6 471.0 357.8 466.0 356.5 463.0 356.4 460.0 357.0 457.0 358.1 453.0 360.4 448.0 364.3 442.0 370.2 423.5 392.0 414.8 401.0 410.0 405.0 406.0 407.9 390.0 417.9 383.0 423.8 378.0 429.2 373.0 435.2 356.0 457.9 350.0 465.1 346.0 469.0 342.0 472.0 339.0 473.7 335.0 475.2ZM335.0 466.2L332.0 466.5 328.0 466.2 325.0 465.3 322.0 463.8 319.0 461.8 315.8 459.0 313.0 455.9 310.0 451.9 307.7 448.0 305.2 443.0 302.0 433.7 299.5 422.0 298.5 410.0 298.6 397.0 300.0 378.0 301.7 364.0 303.8 354.0 305.9 348.0 308.6 342.0 319.6 323.0 329.0 304.7 332.0 299.8 335.5 295.0 339.0 291.1 343.0 287.5 347.0 284.4 352.0 281.4 357.0 279.1 361.0 277.9 368.0 276.8 375.0 277.3 381.0 278.8 394.0 283.7 398.0 284.6 402.0 284.8 407.0 284.2 412.0 282.8 427.0 276.4 432.0 274.8 437.0 274.4 440.0 275.0 442.3 276.0 445.0 277.9 447.0 279.8 449.0 282.3 451.0 285.5 454.2 293.0 456.4 302.0 456.9 310.0 456.1 318.0 453.7 326.0 450.3 333.0 445.2 341.0 430.0 360.8 415.0 383.0 409.0 390.7 402.8 397.0 390.0 408.1 384.0 414.3 372.0 428.6 354.0 451.7 349.0 457.3 345.0 461.0 342.0 463.2 339.0 464.9 335.0 466.2ZM336.0 456.1L332.0 456.4 328.0 455.6 324.0 453.7 319.3 450.0 315.8 446.0 312.5 441.0 310.0 435.8 307.6 429.0 306.0 422.7 304.9 416.0 304.2 409.0 304.0 401.0 304.3 391.0 305.2 378.0 306.2 369.0 307.6 361.0 310.2 352.0 314.0 343.9 325.1 326.0 334.7 309.0 338.0 304.2 340.6 301.0 344.0 297.6 348.0 294.4 352.0 291.9 356.0 290.1 360.0 288.8 364.0 288.2 368.0 288.0 372.0 288.6 376.6 290.0 381.0 292.2 394.0 301.4 399.0 304.3 404.0 306.2 415.0 309.2 418.0 310.5 420.3 312.0 423.0 315.0 424.6 319.0 425.0 324.0 424.2 330.0 422.3 337.0 418.8 346.0 413.7 357.0 408.5 367.0 402.4 377.0 391.0 392.9 378.8 411.0 367.0 426.6 356.0 440.0 350.0 446.8 346.0 450.7 343.0 453.0 339.0 455.2 336.0 456.1ZM334.0 445.0L331.0 444.6 327.3 443.0 324.0 440.6 321.6 438.0 319.0 434.4 316.6 430.0 314.6 425.0 313.0 419.5 311.8 414.0 311.0 407.7 310.4 393.0 311.3 375.0 312.2 368.0 313.5 362.0 316.1 354.0 320.1 346.0 339.0 317.7 344.0 311.2 347.0 308.2 350.0 305.9 353.0 304.0 356.0 302.7 359.0 301.8 363.0 301.2 366.0 301.3 369.0 301.8 372.0 302.9 375.0 304.6 378.0 306.9 380.1 309.0 382.5 312.0 385.1 316.0 389.4 325.0 392.3 334.0 393.7 343.0 393.6 352.0 391.9 361.0 387.6 375.0 380.7 393.0 375.4 404.0 369.8 413.0 365.4 419.0 360.0 425.5 353.0 433.3 348.0 438.2 344.0 441.4 341.0 443.3 337.0 444.7 334.0 445.0ZM338.0 430.0L335.0 429.9 333.0 429.3 330.6 428.0 328.0 425.6 326.0 423.0 324.0 419.4 321.0 411.2 319.0 401.0 318.1 389.0 318.4 376.0 320.0 366.0 321.1 362.0 323.0 357.0 327.0 349.7 334.0 340.2 345.0 327.2 350.0 322.5 355.0 319.4 358.0 318.4 360.0 318.1 364.0 318.5 366.0 319.2 368.8 321.0 370.9 323.0 372.4 325.0 375.4 331.0 377.7 339.0 378.8 348.0 378.9 357.0 377.8 367.0 375.7 378.0 373.0 388.1 369.9 397.0 366.5 404.0 362.0 410.9 356.0 418.0 349.0 424.5 343.0 428.5 340.0 429.6 338.0 430.0ZM345.0 406.1L343.0 406.4 341.0 406.2 338.0 404.7 335.0 401.4 333.0 397.7 331.0 392.0 329.9 386.0 329.5 379.0 329.9 373.0 331.0 367.8 332.8 363.0 335.0 359.2 338.0 355.2 342.0 351.3 347.0 347.9 351.0 346.4 354.0 346.2 357.0 347.4 359.0 349.4 360.5 352.0 361.8 356.0 362.5 360.0 362.8 365.0 362.5 371.0 361.8 377.0 360.7 383.0 359.4 388.0 358.0 392.0 356.0 396.2 354.0 399.3 351.0 402.7 348.0 404.9 345.0 406.1Z"/><path d="M688.8 385.0C687.9 381.3 687.0 379.3 686.6 374.4C686.2 369.5 686.0 361.6 686.6 355.5C687.2 349.4 688.4 343.4 690.2 338.0C692.0 332.6 694.3 328.3 697.5 323.4C700.7 318.5 705.3 313.7 709.2 308.8C713.1 303.9 717.2 298.6 720.9 294.2C724.5 289.8 727.7 285.6 731.1 282.5C734.5 279.4 738.4 277.1 741.3 275.9C744.2 274.7 746.5 274.6 748.6 275.2C750.7 275.8 752.5 277.4 753.7 279.6C754.9 281.8 755.5 284.7 755.9 288.3C756.3 291.9 756.2 296.9 756.2 301.5C756.2 306.1 755.8 311.7 755.9 316.1C756.0 320.5 755.9 324.7 756.6 327.7C757.3 330.7 758.6 333.4 760.2 334.3C761.8 335.2 763.9 334.4 766.1 332.8C768.3 331.2 770.7 328.3 773.4 324.8C776.1 321.3 779.2 314.9 782.1 311.7C785.0 308.5 788.2 306.4 790.9 305.9C793.6 305.4 796.4 306.6 798.2 308.8C800.0 311.0 801.1 314.6 801.8 319.0C802.5 323.4 802.7 329.4 802.6 335.0C802.5 340.6 802.1 346.7 801.1 352.5C800.1 358.3 798.5 364.6 796.7 370.0C794.9 375.4 792.2 379.3 790.2 385.0C788.2 390.7 786.6 397.2 785.0 404.0C783.4 410.8 782.0 418.6 780.7 425.9C779.4 433.2 778.2 439.9 777.0 447.7C775.8 455.5 775.0 465.4 773.4 472.5C771.8 479.6 770.2 484.9 767.5 490.0C764.8 495.1 760.9 500.1 757.3 503.2C753.7 506.3 749.4 508.5 745.7 508.7C742.1 508.9 738.6 507.7 735.4 504.6C732.2 501.5 728.7 495.8 726.7 490.0C724.7 484.2 724.0 476.2 723.5 469.6C723.0 463.1 723.0 456.1 723.8 450.7C724.6 445.3 726.2 441.9 728.1 437.5C730.0 433.1 733.3 428.5 735.4 424.4C737.5 420.3 739.3 416.8 740.5 412.7C741.7 408.6 742.2 404.2 742.7 399.6C743.2 395.0 743.3 390.2 743.2 385.0C743.1 379.8 742.8 372.0 742.0 368.6C741.2 365.2 739.7 365.1 738.4 364.9C737.1 364.6 736.0 364.8 734.0 367.1C732.0 369.4 728.5 375.8 726.7 378.8C724.9 381.8 724.7 381.5 723.0 385.0C721.3 388.5 718.8 395.7 716.5 399.6C714.2 403.5 711.3 406.3 709.2 408.3C707.1 410.3 706.1 411.8 704.1 411.6C702.1 411.4 699.6 409.4 697.5 406.9C695.4 404.4 693.2 400.3 691.7 396.7C690.2 393.1 689.6 388.7 688.8 385.0Z"/><ellipse cx="654.7" cy="597.5" rx="13.2" ry="28.8" transform="rotate(3 654.7 597.5)"/><ellipse cx="828" cy="448.5" rx="3.3" ry="7.2" transform="rotate(0 828 448.5)"/><ellipse cx="858.6" cy="688.1" rx="6.6" ry="14.2" transform="rotate(2 858.6 688.1)"/></g>
<path d="M413.5 245.4L413.5 225.9M393.5 263.4L396.9 244.2M411.5 263.3L415.5 244.3M428.5 263.0L435.1 244.6M372.6 280.8L381.2 263.2M392.3 281.3L398.1 262.7M410.0 281.1L417.0 262.9M427.5 280.8L436.1 263.2M445.8 280.8L454.4 263.2M477.2 274.4L496.2 269.6M495.6 274.5L514.4 269.5M316.7 298.4L327.3 282.0M334.6 298.1L346.0 282.3M352.7 298.0L364.5 282.4M371.7 298.5L382.1 281.9M390.6 298.8L399.8 281.6M409.4 299.0L417.6 281.4M426.9 298.6L436.7 281.8M445.4 298.7L454.8 281.7M477.2 292.2L496.2 288.2M495.5 292.4L514.5 288.0M513.9 292.7L532.7 287.7M296.9 315.4L310.5 301.4M315.6 315.8L328.4 301.0M334.0 315.9L346.6 300.9M352.3 315.9L364.9 300.9M370.6 315.9L383.2 300.9M389.1 316.0L401.3 300.8M408.3 316.7L418.7 300.1M426.8 316.8L436.8 300.0M445.0 316.7L455.2 300.1M460.2 313.7L476.6 303.1M477.0 309.4L496.4 307.4M495.3 309.8L514.7 307.0M513.8 310.4L532.8 306.4M258.0 330.1L276.2 323.1M276.4 330.4L294.4 322.8M297.2 333.8L310.2 319.4M315.7 334.1L328.3 319.1M334.0 334.1L346.6 319.1M352.3 334.1L364.9 319.1M370.6 334.1L383.2 319.1M387.7 332.9L402.7 320.3M408.2 334.8L418.8 318.4M426.9 335.0L436.7 318.2M445.7 335.3L454.5 317.9M477.0 326.9L496.4 326.3M495.3 326.8L514.7 326.4M513.6 327.6L533.0 325.6M258.3 348.9L275.9 340.7M276.6 348.9L294.2 340.7M297.4 352.3L310.0 337.3M315.7 352.3L328.3 337.3M334.0 352.3L346.6 337.3M352.3 352.3L364.9 337.3M370.6 352.3L383.2 337.3M387.1 350.3L403.3 339.3M408.2 353.0L418.8 336.6M427.8 353.7L435.8 335.9M445.7 353.5L454.5 336.1M477.0 344.5L496.4 345.1M495.3 343.4L514.7 346.2M297.3 370.4L310.1 355.6M315.7 370.5L328.3 355.5M334.0 370.5L346.6 355.5M352.3 370.5L364.9 355.5M370.6 370.5L383.2 355.5M386.9 368.2L403.5 357.8M432.6 372.7L431.0 353.3M447.2 372.3L453.0 353.7M496.1 359.0L513.9 367.0M298.5 389.5L308.9 372.9M316.0 388.9L328.0 373.5M334.3 388.9L346.3 373.5M352.6 388.9L364.6 373.5M370.9 388.9L382.9 373.5M387.4 387.1L403.0 375.3M432.6 390.9L431.0 371.5M298.5 407.7L308.9 391.1M316.4 407.4L327.6 391.4M334.3 407.1L346.3 391.7M352.9 407.3L364.3 391.5M371.2 407.3L382.6 391.5M416.7 408.6L410.3 390.2M432.6 409.1L431.0 389.7M298.8 426.0L308.6 409.2M317.1 426.0L326.9 409.2M334.8 425.7L345.8 409.5M353.1 425.7L364.1 409.5M371.4 425.7L382.4 409.5M415.5 427.1L411.5 408.1M432.6 427.3L431.0 407.9M299.7 444.7L307.7 426.9M317.1 444.2L326.9 427.4M335.0 444.0L345.6 427.6M353.3 444.0L363.9 427.6M371.7 444.1L382.1 427.5M395.5 445.5L394.9 426.1M415.2 445.4L411.8 426.2M317.0 462.4L327.0 445.6M334.8 462.1L345.8 445.9M353.4 462.3L363.8 445.7M372.2 462.5L381.6 445.5M395.5 463.7L394.9 444.3" stroke="#ffff00" stroke-width="2.6" fill="none"/>
<clipPath id="bclip"><ellipse cx="189.3" cy="649.7" rx="21.3" ry="43.4" transform="rotate(9.7 189.3 649.7)"/></clipPath><path d="M160 610.9H220M160 614.9H220M160 618.9H220M160 622.9H220M160 626.9H220M160 630.9H220M160 634.9H220M160 638.9H220M160 642.9H220M160 646.9H220M160 650.9H220M160 654.9H220M160 658.9H220M160 662.9H220M160 666.9H220M160 670.9H220M160 674.9H220M160 678.9H220M160 682.9H220M160 686.9H220M160 690.9H220" stroke="#e8e800" stroke-width="1.3" clip-path="url(#bclip)"/><ellipse cx="189.3" cy="649.7" rx="21.3" ry="43.4" transform="rotate(9.7 189.3 649.7)" fill="none" stroke="#f0f000" stroke-width="1.5"/>
</g>
<path d="M215.3 0V16M215.3 779V763M345.7 0V16M345.7 779V763M476.0 0V16M476.0 779V763M606.4 0V16M606.4 779V763M736.8 0V16M736.8 779V763M867.1 0V16M867.1 779V763M124 115.2H140M903 115.2H887M124 245.5H140M903 245.5H887M124 375.9H140M903 375.9H887M124 506.2H140M903 506.2H887M124 636.6H140M903 636.6H887M124 766.9H140M903 766.9H887" stroke="#b01800" stroke-width="1.3" fill="none"/><rect x="123" y="0" width="2" height="781" fill="#7a1000"/><rect x="123" y="779" width="781" height="2" fill="#7a1000"/><rect x="123" y="0" width="781" height="1" fill="#e02000"/><rect x="903" y="0" width="1" height="781" fill="#e02000"/><g font-family="Liberation Sans, sans-serif" font-size="33" fill="#b81800" stroke="#9a1200" stroke-width="0.6"><text x="215.3" y="836" text-anchor="middle">0.5</text><text x="345.7" y="836" text-anchor="middle">0.0</text><text x="476.0" y="836" text-anchor="middle">-0.5</text><text x="606.4" y="836" text-anchor="middle">-1.0</text><text x="736.8" y="836" text-anchor="middle">-1.5</text><text x="867.1" y="836" text-anchor="middle">-2.0</text><text x="113" y="130.8" text-anchor="end">1.0</text><text x="113" y="261.1" text-anchor="end">0.5</text><text x="113" y="391.5" text-anchor="end">0.0</text><text x="113" y="521.9" text-anchor="end">-0.5</text><text x="113" y="652.2" text-anchor="end">-1.0</text><text x="113" y="782.5" text-anchor="end">-1.5</text><text x="513.5" y="883.5" text-anchor="middle">RA (mas)</text><text transform="translate(23 390) rotate(-90)" text-anchor="middle" font-size="32">Dec (mas)</text></g><g font-family="Liberation Sans, sans-serif" font-size="32" fill="#ffff00"><text x="136.5" y="78.5">0851+202</text><text x="521" y="78.5" font-size="32.4">2 Apr 2023</text><text x="149" y="130.5">43 GHz</text></g>
</svg>
</body></html>
